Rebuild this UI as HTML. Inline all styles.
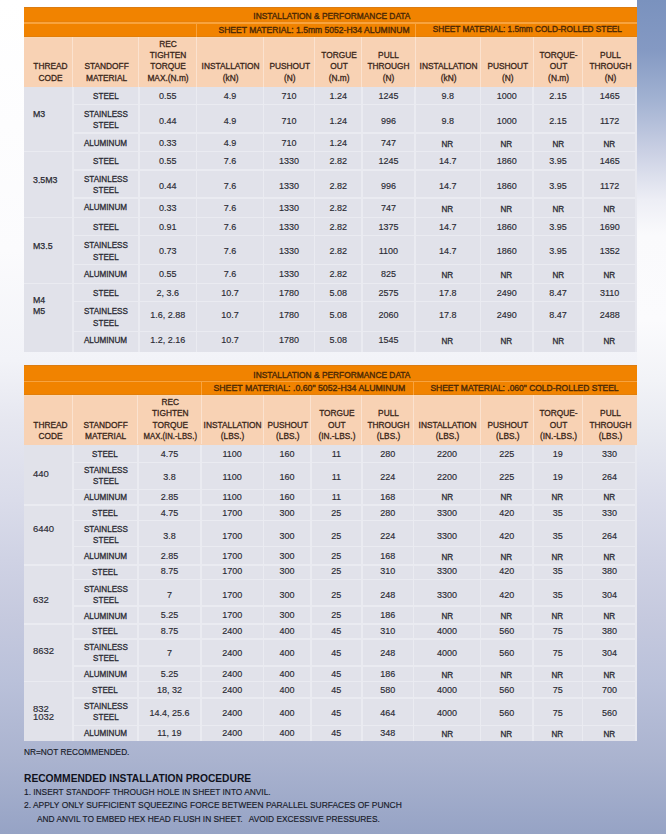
<!DOCTYPE html>
<html><head><meta charset="utf-8"><style>
html,body{margin:0;padding:0;}
body{width:666px;height:834px;position:relative;overflow:hidden;font-family:"Liberation Sans",sans-serif;background:#fff;}
body>div{position:absolute;box-sizing:border-box;}
.t{display:flex;align-items:center;white-space:nowrap;line-height:1.2;}
.t span{display:block;}
.h span{display:block;}
.h{display:flex;align-items:flex-end;justify-content:center;text-align:center;white-space:nowrap;}
.f{white-space:nowrap;line-height:1;}
</style></head><body>

<div style="left:0;top:0;width:666px;height:834px;background:linear-gradient(to bottom,#FFFFFF 0px,#FBFBFD 250px,#F2F3F8 360px,#E6E7F0 420px,#DADCEA 500px,#CFD2E4 560px,#C5C9DE 620px,#BAC1DA 680px,#AAB3CF 760px,#96A3C5 834px);"></div>
<div style="left:637px;top:0;width:29px;height:834px;background:linear-gradient(to bottom,#7A92BE 0px,#8499C3 50px,#A2B2D2 100px,#C9CFE3 150px,#EDEEF5 200px,#FAFAFC 235px,#FBFBFD 320px,#F2F3F7 380px,#E8EAF1 430px,#DADCEA 500px,#CFD2E4 560px,#C5C9DE 620px,#BAC1DA 680px,#AAB3CF 760px,#96A3C5 834px);"></div>

<div style="left:24px;top:7px;width:612.6px;height:30.7px;background:#F18300;"></div>
<div style="left:24px;top:7px;width:612.6px;height:1px;background:#DB7C12;"></div>
<div style="left:24px;top:22px;width:612.6px;height:1.8px;background:#F8A33E;"></div>
<div style="left:24px;top:21px;width:612.6px;height:1px;background:#E88008;"></div>
<div style="left:24px;top:35.7px;width:612.6px;height:1.0px;background:#E27E0A;"></div>
<div style="left:196.0px;top:23.8px;width:1.0px;height:12.9px;background:#F8A33E;"></div>
<div style="left:414.5px;top:23.8px;width:1.0px;height:12.9px;background:#F8A33E;"></div>
<div class="t" style="left:231.9px;top:9px;width:200.0px;height:15px;font-size:8.4px;color:#4A2806;justify-content:center;text-align:center;font-weight:400;letter-spacing:0px;padding-left:0px;-webkit-text-stroke:0.35px #4A2806;"><span style="">INSTALLATION &amp; PERFORMANCE DATA</span></div>
<div class="t" style="left:209px;top:23.8px;width:210px;height:12.9px;font-size:8.56px;color:#4A2806;justify-content:center;text-align:center;font-weight:400;letter-spacing:0px;padding-left:0px;-webkit-text-stroke:0.35px #4A2806;"><span style="">SHEET MATERIAL: 1.5mm 5052-H34 ALUMINUM</span></div>
<div class="t" style="left:422.4px;top:23.8px;width:210.0px;height:12.9px;font-size:8.24px;color:#4A2806;justify-content:center;text-align:center;font-weight:400;letter-spacing:0px;padding-left:0px;-webkit-text-stroke:0.35px #4A2806;"><span style="">SHEET MATERIAL: 1.5mm COLD-ROLLED STEEL</span></div>
<div style="left:24px;top:36.7px;width:612.6px;height:50.9px;background:#F8D2B4;"></div>
<div style="left:24px;top:36.7px;width:612.6px;height:1.0px;background:#FAD7B2;"></div>
<div style="left:72.3px;top:36.7px;width:1.0px;height:49.9px;background:#FBE2CF;"></div>
<div style="left:138.3px;top:36.7px;width:1.0px;height:49.9px;background:#FBE2CF;"></div>
<div style="left:196.0px;top:36.7px;width:1.0px;height:49.9px;background:#FBE2CF;"></div>
<div style="left:262.8px;top:36.7px;width:1.0px;height:49.9px;background:#FBE2CF;"></div>
<div style="left:314.0px;top:36.7px;width:1.0px;height:49.9px;background:#FBE2CF;"></div>
<div style="left:361.3px;top:36.7px;width:1.0px;height:49.9px;background:#FBE2CF;"></div>
<div style="left:414.5px;top:36.7px;width:1.0px;height:49.9px;background:#FBE2CF;"></div>
<div style="left:479.9px;top:36.7px;width:1.0px;height:49.9px;background:#FBE2CF;"></div>
<div style="left:532.5px;top:36.7px;width:1.0px;height:49.9px;background:#FBE2CF;"></div>
<div style="left:582.3px;top:36.7px;width:1.0px;height:49.9px;background:#FBE2CF;"></div>
<div class="h" style="left:25.8px;top:36.7px;width:48.8px;height:47.5px;font-size:8.5px;line-height:11.4px;color:#3A2619;-webkit-text-stroke:0.3px #3A2619"><span style="transform:scaleX(0.98)">THREAD<br>CODE</span></div>
<div class="h" style="left:73.4px;top:36.7px;width:66px;height:47.5px;font-size:8.5px;line-height:11.4px;color:#3A2619;-webkit-text-stroke:0.3px #3A2619"><span style="transform:scaleX(0.98)">STANDOFF<br>MATERIAL</span></div>
<div class="h" style="left:139.4px;top:36.7px;width:57.7px;height:47.5px;font-size:8.5px;line-height:11.4px;color:#3A2619;-webkit-text-stroke:0.3px #3A2619"><span style="transform:scaleX(0.98)">REC<br>TIGHTEN<br>TORQUE<br>MAX.(N.m)</span></div>
<div class="h" style="left:197.1px;top:36.7px;width:66.8px;height:47.5px;font-size:8.5px;line-height:11.4px;color:#3A2619;-webkit-text-stroke:0.3px #3A2619"><span style="transform:scaleX(0.98)">INSTALLATION<br>(kN)</span></div>
<div class="h" style="left:263.9px;top:36.7px;width:51.2px;height:47.5px;font-size:8.5px;line-height:11.4px;color:#3A2619;-webkit-text-stroke:0.3px #3A2619"><span style="transform:scaleX(0.98)">PUSHOUT<br>(N)</span></div>
<div class="h" style="left:315.1px;top:36.7px;width:47.3px;height:47.5px;font-size:8.5px;line-height:11.4px;color:#3A2619;-webkit-text-stroke:0.3px #3A2619"><span style="transform:scaleX(0.98)">TORGUE<br>OUT<br>(N.m)</span></div>
<div class="h" style="left:362.4px;top:36.7px;width:53.2px;height:47.5px;font-size:8.5px;line-height:11.4px;color:#3A2619;-webkit-text-stroke:0.3px #3A2619"><span style="transform:scaleX(0.98)">PULL<br>THROUGH<br>(N)</span></div>
<div class="h" style="left:415.6px;top:36.7px;width:65.4px;height:47.5px;font-size:8.5px;line-height:11.4px;color:#3A2619;-webkit-text-stroke:0.3px #3A2619"><span style="transform:scaleX(0.98)">INSTALLATION<br>(kN)</span></div>
<div class="h" style="left:481.0px;top:36.7px;width:52.6px;height:47.5px;font-size:8.5px;line-height:11.4px;color:#3A2619;-webkit-text-stroke:0.3px #3A2619"><span style="transform:scaleX(0.98)">PUSHOUT<br>(N)</span></div>
<div class="h" style="left:533.6px;top:36.7px;width:49.8px;height:47.5px;font-size:8.5px;line-height:11.4px;color:#3A2619;-webkit-text-stroke:0.3px #3A2619"><span style="transform:scaleX(0.98)">TORQUE-<br>OUT<br>(N.m)</span></div>
<div class="h" style="left:583.4px;top:36.7px;width:53.8px;height:47.5px;font-size:8.5px;line-height:11.4px;color:#3A2619;-webkit-text-stroke:0.3px #3A2619"><span style="transform:scaleX(0.98)">PULL<br>THROUGH<br>(N)</span></div>
<div style="left:24px;top:86.6px;width:612.6px;height:265.2px;background:#E1E2EA;"></div>
<div style="left:72.05px;top:86.6px;width:1.5px;height:265.2px;background:#EAEBF1;"></div>
<div style="left:138.05px;top:86.6px;width:1.5px;height:265.2px;background:#EAEBF1;"></div>
<div style="left:195.75px;top:86.6px;width:1.5px;height:265.2px;background:#EAEBF1;"></div>
<div style="left:262.55px;top:86.6px;width:1.5px;height:265.2px;background:#EAEBF1;"></div>
<div style="left:313.75px;top:86.6px;width:1.5px;height:265.2px;background:#EAEBF1;"></div>
<div style="left:361.05px;top:86.6px;width:1.5px;height:265.2px;background:#EAEBF1;"></div>
<div style="left:414.25px;top:86.6px;width:1.5px;height:265.2px;background:#EAEBF1;"></div>
<div style="left:479.65px;top:86.6px;width:1.5px;height:265.2px;background:#EAEBF1;"></div>
<div style="left:532.25px;top:86.6px;width:1.5px;height:265.2px;background:#EAEBF1;"></div>
<div style="left:582.05px;top:86.6px;width:1.5px;height:265.2px;background:#EAEBF1;"></div>
<div style="left:72.8px;top:103.75px;width:563.8px;height:1.5px;background:#EAEBF1;"></div>
<div style="left:72.8px;top:132.45px;width:563.8px;height:1.5px;background:#EAEBF1;"></div>
<div style="left:24px;top:150.75px;width:612.6px;height:1.5px;background:#EAEBF1;"></div>
<div style="left:72.8px;top:169.15px;width:563.8px;height:1.5px;background:#EAEBF1;"></div>
<div style="left:72.8px;top:197.45px;width:563.8px;height:1.5px;background:#EAEBF1;"></div>
<div style="left:24px;top:216.75px;width:612.6px;height:1.5px;background:#EAEBF1;"></div>
<div style="left:72.8px;top:234.65px;width:563.8px;height:1.5px;background:#EAEBF1;"></div>
<div style="left:72.8px;top:263.75px;width:563.8px;height:1.5px;background:#EAEBF1;"></div>
<div style="left:24px;top:282.75px;width:612.6px;height:1.5px;background:#EAEBF1;"></div>
<div style="left:72.8px;top:300.65px;width:563.8px;height:1.5px;background:#EAEBF1;"></div>
<div style="left:72.8px;top:330.85px;width:563.8px;height:1.5px;background:#EAEBF1;"></div>
<div style="left:635.1px;top:86.6px;width:1.5px;height:265.2px;background:#E8E9F0;"></div>
<div class="t" style="left:24px;top:82.6px;width:48.8px;height:64.9px;font-size:8.8px;color:#2A2A33;justify-content:flex-start;text-align:left;font-weight:400;letter-spacing:0px;padding-left:9px;line-height:11.5px;-webkit-text-stroke:0.25px #2A2A33;"><span style="">M3</span></div>
<div class="t" style="left:72.8px;top:87.5px;width:66px;height:17.9px;font-size:8.8px;color:#2A2A33;justify-content:center;text-align:center;font-weight:400;letter-spacing:0px;padding-left:0px;line-height:11.5px;-webkit-text-stroke:0.3px #2A2A33;"><span style="transform:scaleX(0.92);transform-origin:50% 50%;">STEEL</span></div>
<div class="t" style="left:138.8px;top:87px;width:57.7px;height:17.9px;font-size:9px;color:#2A2A33;justify-content:center;text-align:center;font-weight:400;letter-spacing:0px;padding-left:0px;-webkit-text-stroke:0.15px #2A2A33;"><span style="">0.55</span></div>
<div class="t" style="left:196.5px;top:87px;width:66.8px;height:17.9px;font-size:9px;color:#2A2A33;justify-content:center;text-align:center;font-weight:400;letter-spacing:0px;padding-left:0px;-webkit-text-stroke:0.15px #2A2A33;"><span style="">4.9</span></div>
<div class="t" style="left:263.3px;top:87px;width:51.2px;height:17.9px;font-size:9px;color:#2A2A33;justify-content:center;text-align:center;font-weight:400;letter-spacing:0px;padding-left:0px;-webkit-text-stroke:0.15px #2A2A33;"><span style="">710</span></div>
<div class="t" style="left:314.5px;top:87px;width:47.3px;height:17.9px;font-size:9px;color:#2A2A33;justify-content:center;text-align:center;font-weight:400;letter-spacing:0px;padding-left:0px;-webkit-text-stroke:0.15px #2A2A33;"><span style="">1.24</span></div>
<div class="t" style="left:361.8px;top:87px;width:53.2px;height:17.9px;font-size:9px;color:#2A2A33;justify-content:center;text-align:center;font-weight:400;letter-spacing:0px;padding-left:0px;-webkit-text-stroke:0.15px #2A2A33;"><span style="">1245</span></div>
<div class="t" style="left:415px;top:87px;width:65.4px;height:17.9px;font-size:9px;color:#2A2A33;justify-content:center;text-align:center;font-weight:400;letter-spacing:0px;padding-left:0px;-webkit-text-stroke:0.15px #2A2A33;"><span style="">9.8</span></div>
<div class="t" style="left:480.4px;top:87px;width:52.6px;height:17.9px;font-size:9px;color:#2A2A33;justify-content:center;text-align:center;font-weight:400;letter-spacing:0px;padding-left:0px;-webkit-text-stroke:0.15px #2A2A33;"><span style="">1000</span></div>
<div class="t" style="left:533px;top:87px;width:49.8px;height:17.9px;font-size:9px;color:#2A2A33;justify-content:center;text-align:center;font-weight:400;letter-spacing:0px;padding-left:0px;-webkit-text-stroke:0.15px #2A2A33;"><span style="">2.15</span></div>
<div class="t" style="left:582.8px;top:87px;width:53.8px;height:17.9px;font-size:9px;color:#2A2A33;justify-content:center;text-align:center;font-weight:400;letter-spacing:0px;padding-left:0px;-webkit-text-stroke:0.15px #2A2A33;"><span style="">1465</span></div>
<div class="t" style="left:72.8px;top:106.0px;width:66px;height:28.7px;font-size:8.8px;color:#2A2A33;justify-content:center;text-align:center;font-weight:400;letter-spacing:0px;padding-left:0px;line-height:11.5px;-webkit-text-stroke:0.3px #2A2A33;"><span style="transform:scaleX(0.92);transform-origin:50% 50%;">STAINLESS<br>STEEL</span></div>
<div class="t" style="left:138.8px;top:106.6px;width:57.7px;height:28.7px;font-size:9px;color:#2A2A33;justify-content:center;text-align:center;font-weight:400;letter-spacing:0px;padding-left:0px;-webkit-text-stroke:0.15px #2A2A33;"><span style="">0.44</span></div>
<div class="t" style="left:196.5px;top:106.6px;width:66.8px;height:28.7px;font-size:9px;color:#2A2A33;justify-content:center;text-align:center;font-weight:400;letter-spacing:0px;padding-left:0px;-webkit-text-stroke:0.15px #2A2A33;"><span style="">4.9</span></div>
<div class="t" style="left:263.3px;top:106.6px;width:51.2px;height:28.7px;font-size:9px;color:#2A2A33;justify-content:center;text-align:center;font-weight:400;letter-spacing:0px;padding-left:0px;-webkit-text-stroke:0.15px #2A2A33;"><span style="">710</span></div>
<div class="t" style="left:314.5px;top:106.6px;width:47.3px;height:28.7px;font-size:9px;color:#2A2A33;justify-content:center;text-align:center;font-weight:400;letter-spacing:0px;padding-left:0px;-webkit-text-stroke:0.15px #2A2A33;"><span style="">1.24</span></div>
<div class="t" style="left:361.8px;top:106.6px;width:53.2px;height:28.7px;font-size:9px;color:#2A2A33;justify-content:center;text-align:center;font-weight:400;letter-spacing:0px;padding-left:0px;-webkit-text-stroke:0.15px #2A2A33;"><span style="">996</span></div>
<div class="t" style="left:415px;top:106.6px;width:65.4px;height:28.7px;font-size:9px;color:#2A2A33;justify-content:center;text-align:center;font-weight:400;letter-spacing:0px;padding-left:0px;-webkit-text-stroke:0.15px #2A2A33;"><span style="">9.8</span></div>
<div class="t" style="left:480.4px;top:106.6px;width:52.6px;height:28.7px;font-size:9px;color:#2A2A33;justify-content:center;text-align:center;font-weight:400;letter-spacing:0px;padding-left:0px;-webkit-text-stroke:0.15px #2A2A33;"><span style="">1000</span></div>
<div class="t" style="left:533px;top:106.6px;width:49.8px;height:28.7px;font-size:9px;color:#2A2A33;justify-content:center;text-align:center;font-weight:400;letter-spacing:0px;padding-left:0px;-webkit-text-stroke:0.15px #2A2A33;"><span style="">2.15</span></div>
<div class="t" style="left:582.8px;top:106.6px;width:53.8px;height:28.7px;font-size:9px;color:#2A2A33;justify-content:center;text-align:center;font-weight:400;letter-spacing:0px;padding-left:0px;-webkit-text-stroke:0.15px #2A2A33;"><span style="">1172</span></div>
<div class="t" style="left:72.8px;top:134.9px;width:66px;height:18.3px;font-size:8.8px;color:#2A2A33;justify-content:center;text-align:center;font-weight:400;letter-spacing:0px;padding-left:0px;line-height:11.5px;-webkit-text-stroke:0.3px #2A2A33;"><span style="transform:scaleX(0.92);transform-origin:50% 50%;">ALUMINUM</span></div>
<div class="t" style="left:138.8px;top:134.1px;width:57.7px;height:18.3px;font-size:9px;color:#2A2A33;justify-content:center;text-align:center;font-weight:400;letter-spacing:0px;padding-left:0px;-webkit-text-stroke:0.15px #2A2A33;"><span style="">0.33</span></div>
<div class="t" style="left:196.5px;top:134.1px;width:66.8px;height:18.3px;font-size:9px;color:#2A2A33;justify-content:center;text-align:center;font-weight:400;letter-spacing:0px;padding-left:0px;-webkit-text-stroke:0.15px #2A2A33;"><span style="">4.9</span></div>
<div class="t" style="left:263.3px;top:134.1px;width:51.2px;height:18.3px;font-size:9px;color:#2A2A33;justify-content:center;text-align:center;font-weight:400;letter-spacing:0px;padding-left:0px;-webkit-text-stroke:0.15px #2A2A33;"><span style="">710</span></div>
<div class="t" style="left:314.5px;top:134.1px;width:47.3px;height:18.3px;font-size:9px;color:#2A2A33;justify-content:center;text-align:center;font-weight:400;letter-spacing:0px;padding-left:0px;-webkit-text-stroke:0.15px #2A2A33;"><span style="">1.24</span></div>
<div class="t" style="left:361.8px;top:134.1px;width:53.2px;height:18.3px;font-size:9px;color:#2A2A33;justify-content:center;text-align:center;font-weight:400;letter-spacing:0px;padding-left:0px;-webkit-text-stroke:0.15px #2A2A33;"><span style="">747</span></div>
<div class="t" style="left:415px;top:134.8px;width:65.4px;height:18.3px;font-size:8.8px;color:#2A2A33;justify-content:center;text-align:center;font-weight:400;letter-spacing:0px;padding-left:0px;-webkit-text-stroke:0.3px #2A2A33;"><span style="transform:scaleX(0.92);transform-origin:50% 50%;">NR</span></div>
<div class="t" style="left:480.4px;top:134.8px;width:52.6px;height:18.3px;font-size:8.8px;color:#2A2A33;justify-content:center;text-align:center;font-weight:400;letter-spacing:0px;padding-left:0px;-webkit-text-stroke:0.3px #2A2A33;"><span style="transform:scaleX(0.92);transform-origin:50% 50%;">NR</span></div>
<div class="t" style="left:533px;top:134.8px;width:49.8px;height:18.3px;font-size:8.8px;color:#2A2A33;justify-content:center;text-align:center;font-weight:400;letter-spacing:0px;padding-left:0px;-webkit-text-stroke:0.3px #2A2A33;"><span style="transform:scaleX(0.92);transform-origin:50% 50%;">NR</span></div>
<div class="t" style="left:582.8px;top:134.8px;width:53.8px;height:18.3px;font-size:8.8px;color:#2A2A33;justify-content:center;text-align:center;font-weight:400;letter-spacing:0px;padding-left:0px;-webkit-text-stroke:0.3px #2A2A33;"><span style="transform:scaleX(0.92);transform-origin:50% 50%;">NR</span></div>
<div class="t" style="left:24px;top:147.9px;width:48.8px;height:66.0px;font-size:8.8px;color:#2A2A33;justify-content:flex-start;text-align:left;font-weight:400;letter-spacing:0px;padding-left:9px;line-height:11.5px;-webkit-text-stroke:0.25px #2A2A33;"><span style="">3.5M3</span></div>
<div class="t" style="left:72.8px;top:152.7px;width:66px;height:18.4px;font-size:8.8px;color:#2A2A33;justify-content:center;text-align:center;font-weight:400;letter-spacing:0px;padding-left:0px;line-height:11.5px;-webkit-text-stroke:0.3px #2A2A33;"><span style="transform:scaleX(0.92);transform-origin:50% 50%;">STEEL</span></div>
<div class="t" style="left:138.8px;top:152.5px;width:57.7px;height:18.4px;font-size:9px;color:#2A2A33;justify-content:center;text-align:center;font-weight:400;letter-spacing:0px;padding-left:0px;-webkit-text-stroke:0.15px #2A2A33;"><span style="">0.55</span></div>
<div class="t" style="left:196.5px;top:152.5px;width:66.8px;height:18.4px;font-size:9px;color:#2A2A33;justify-content:center;text-align:center;font-weight:400;letter-spacing:0px;padding-left:0px;-webkit-text-stroke:0.15px #2A2A33;"><span style="">7.6</span></div>
<div class="t" style="left:263.3px;top:152.5px;width:51.2px;height:18.4px;font-size:9px;color:#2A2A33;justify-content:center;text-align:center;font-weight:400;letter-spacing:0px;padding-left:0px;-webkit-text-stroke:0.15px #2A2A33;"><span style="">1330</span></div>
<div class="t" style="left:314.5px;top:152.5px;width:47.3px;height:18.4px;font-size:9px;color:#2A2A33;justify-content:center;text-align:center;font-weight:400;letter-spacing:0px;padding-left:0px;-webkit-text-stroke:0.15px #2A2A33;"><span style="">2.82</span></div>
<div class="t" style="left:361.8px;top:152.5px;width:53.2px;height:18.4px;font-size:9px;color:#2A2A33;justify-content:center;text-align:center;font-weight:400;letter-spacing:0px;padding-left:0px;-webkit-text-stroke:0.15px #2A2A33;"><span style="">1245</span></div>
<div class="t" style="left:415px;top:152.5px;width:65.4px;height:18.4px;font-size:9px;color:#2A2A33;justify-content:center;text-align:center;font-weight:400;letter-spacing:0px;padding-left:0px;-webkit-text-stroke:0.15px #2A2A33;"><span style="">14.7</span></div>
<div class="t" style="left:480.4px;top:152.5px;width:52.6px;height:18.4px;font-size:9px;color:#2A2A33;justify-content:center;text-align:center;font-weight:400;letter-spacing:0px;padding-left:0px;-webkit-text-stroke:0.15px #2A2A33;"><span style="">1860</span></div>
<div class="t" style="left:533px;top:152.5px;width:49.8px;height:18.4px;font-size:9px;color:#2A2A33;justify-content:center;text-align:center;font-weight:400;letter-spacing:0px;padding-left:0px;-webkit-text-stroke:0.15px #2A2A33;"><span style="">3.95</span></div>
<div class="t" style="left:582.8px;top:152.5px;width:53.8px;height:18.4px;font-size:9px;color:#2A2A33;justify-content:center;text-align:center;font-weight:400;letter-spacing:0px;padding-left:0px;-webkit-text-stroke:0.15px #2A2A33;"><span style="">1465</span></div>
<div class="t" style="left:72.8px;top:171.3px;width:66px;height:28.3px;font-size:8.8px;color:#2A2A33;justify-content:center;text-align:center;font-weight:400;letter-spacing:0px;padding-left:0px;line-height:11.5px;-webkit-text-stroke:0.3px #2A2A33;"><span style="transform:scaleX(0.92);transform-origin:50% 50%;">STAINLESS<br>STEEL</span></div>
<div class="t" style="left:138.8px;top:172px;width:57.7px;height:28.3px;font-size:9px;color:#2A2A33;justify-content:center;text-align:center;font-weight:400;letter-spacing:0px;padding-left:0px;-webkit-text-stroke:0.15px #2A2A33;"><span style="">0.44</span></div>
<div class="t" style="left:196.5px;top:172px;width:66.8px;height:28.3px;font-size:9px;color:#2A2A33;justify-content:center;text-align:center;font-weight:400;letter-spacing:0px;padding-left:0px;-webkit-text-stroke:0.15px #2A2A33;"><span style="">7.6</span></div>
<div class="t" style="left:263.3px;top:172px;width:51.2px;height:28.3px;font-size:9px;color:#2A2A33;justify-content:center;text-align:center;font-weight:400;letter-spacing:0px;padding-left:0px;-webkit-text-stroke:0.15px #2A2A33;"><span style="">1330</span></div>
<div class="t" style="left:314.5px;top:172px;width:47.3px;height:28.3px;font-size:9px;color:#2A2A33;justify-content:center;text-align:center;font-weight:400;letter-spacing:0px;padding-left:0px;-webkit-text-stroke:0.15px #2A2A33;"><span style="">2.82</span></div>
<div class="t" style="left:361.8px;top:172px;width:53.2px;height:28.3px;font-size:9px;color:#2A2A33;justify-content:center;text-align:center;font-weight:400;letter-spacing:0px;padding-left:0px;-webkit-text-stroke:0.15px #2A2A33;"><span style="">996</span></div>
<div class="t" style="left:415px;top:172px;width:65.4px;height:28.3px;font-size:9px;color:#2A2A33;justify-content:center;text-align:center;font-weight:400;letter-spacing:0px;padding-left:0px;-webkit-text-stroke:0.15px #2A2A33;"><span style="">14.7</span></div>
<div class="t" style="left:480.4px;top:172px;width:52.6px;height:28.3px;font-size:9px;color:#2A2A33;justify-content:center;text-align:center;font-weight:400;letter-spacing:0px;padding-left:0px;-webkit-text-stroke:0.15px #2A2A33;"><span style="">1860</span></div>
<div class="t" style="left:533px;top:172px;width:49.8px;height:28.3px;font-size:9px;color:#2A2A33;justify-content:center;text-align:center;font-weight:400;letter-spacing:0px;padding-left:0px;-webkit-text-stroke:0.15px #2A2A33;"><span style="">3.95</span></div>
<div class="t" style="left:582.8px;top:172px;width:53.8px;height:28.3px;font-size:9px;color:#2A2A33;justify-content:center;text-align:center;font-weight:400;letter-spacing:0px;padding-left:0px;-webkit-text-stroke:0.15px #2A2A33;"><span style="">1172</span></div>
<div class="t" style="left:72.8px;top:198.5px;width:66px;height:19.3px;font-size:8.8px;color:#2A2A33;justify-content:center;text-align:center;font-weight:400;letter-spacing:0px;padding-left:0px;line-height:11.5px;-webkit-text-stroke:0.3px #2A2A33;"><span style="transform:scaleX(0.92);transform-origin:50% 50%;">ALUMINUM</span></div>
<div class="t" style="left:138.8px;top:198.8px;width:57.7px;height:19.3px;font-size:9px;color:#2A2A33;justify-content:center;text-align:center;font-weight:400;letter-spacing:0px;padding-left:0px;-webkit-text-stroke:0.15px #2A2A33;"><span style="">0.33</span></div>
<div class="t" style="left:196.5px;top:198.8px;width:66.8px;height:19.3px;font-size:9px;color:#2A2A33;justify-content:center;text-align:center;font-weight:400;letter-spacing:0px;padding-left:0px;-webkit-text-stroke:0.15px #2A2A33;"><span style="">7.6</span></div>
<div class="t" style="left:263.3px;top:198.8px;width:51.2px;height:19.3px;font-size:9px;color:#2A2A33;justify-content:center;text-align:center;font-weight:400;letter-spacing:0px;padding-left:0px;-webkit-text-stroke:0.15px #2A2A33;"><span style="">1330</span></div>
<div class="t" style="left:314.5px;top:198.8px;width:47.3px;height:19.3px;font-size:9px;color:#2A2A33;justify-content:center;text-align:center;font-weight:400;letter-spacing:0px;padding-left:0px;-webkit-text-stroke:0.15px #2A2A33;"><span style="">2.82</span></div>
<div class="t" style="left:361.8px;top:198.8px;width:53.2px;height:19.3px;font-size:9px;color:#2A2A33;justify-content:center;text-align:center;font-weight:400;letter-spacing:0px;padding-left:0px;-webkit-text-stroke:0.15px #2A2A33;"><span style="">747</span></div>
<div class="t" style="left:415px;top:199.5px;width:65.4px;height:19.3px;font-size:8.8px;color:#2A2A33;justify-content:center;text-align:center;font-weight:400;letter-spacing:0px;padding-left:0px;-webkit-text-stroke:0.3px #2A2A33;"><span style="transform:scaleX(0.92);transform-origin:50% 50%;">NR</span></div>
<div class="t" style="left:480.4px;top:199.5px;width:52.6px;height:19.3px;font-size:8.8px;color:#2A2A33;justify-content:center;text-align:center;font-weight:400;letter-spacing:0px;padding-left:0px;-webkit-text-stroke:0.3px #2A2A33;"><span style="transform:scaleX(0.92);transform-origin:50% 50%;">NR</span></div>
<div class="t" style="left:533px;top:199.5px;width:49.8px;height:19.3px;font-size:8.8px;color:#2A2A33;justify-content:center;text-align:center;font-weight:400;letter-spacing:0px;padding-left:0px;-webkit-text-stroke:0.3px #2A2A33;"><span style="transform:scaleX(0.92);transform-origin:50% 50%;">NR</span></div>
<div class="t" style="left:582.8px;top:199.5px;width:53.8px;height:19.3px;font-size:8.8px;color:#2A2A33;justify-content:center;text-align:center;font-weight:400;letter-spacing:0px;padding-left:0px;-webkit-text-stroke:0.3px #2A2A33;"><span style="transform:scaleX(0.92);transform-origin:50% 50%;">NR</span></div>
<div class="t" style="left:24px;top:213.7px;width:48.8px;height:66.0px;font-size:8.8px;color:#2A2A33;justify-content:flex-start;text-align:left;font-weight:400;letter-spacing:0px;padding-left:9px;line-height:11.5px;-webkit-text-stroke:0.25px #2A2A33;"><span style="">M3.5</span></div>
<div class="t" style="left:72.8px;top:218.6px;width:66px;height:17.9px;font-size:8.8px;color:#2A2A33;justify-content:center;text-align:center;font-weight:400;letter-spacing:0px;padding-left:0px;line-height:11.5px;-webkit-text-stroke:0.3px #2A2A33;"><span style="transform:scaleX(0.92);transform-origin:50% 50%;">STEEL</span></div>
<div class="t" style="left:138.8px;top:218.4px;width:57.7px;height:17.9px;font-size:9px;color:#2A2A33;justify-content:center;text-align:center;font-weight:400;letter-spacing:0px;padding-left:0px;-webkit-text-stroke:0.15px #2A2A33;"><span style="">0.91</span></div>
<div class="t" style="left:196.5px;top:218.4px;width:66.8px;height:17.9px;font-size:9px;color:#2A2A33;justify-content:center;text-align:center;font-weight:400;letter-spacing:0px;padding-left:0px;-webkit-text-stroke:0.15px #2A2A33;"><span style="">7.6</span></div>
<div class="t" style="left:263.3px;top:218.4px;width:51.2px;height:17.9px;font-size:9px;color:#2A2A33;justify-content:center;text-align:center;font-weight:400;letter-spacing:0px;padding-left:0px;-webkit-text-stroke:0.15px #2A2A33;"><span style="">1330</span></div>
<div class="t" style="left:314.5px;top:218.4px;width:47.3px;height:17.9px;font-size:9px;color:#2A2A33;justify-content:center;text-align:center;font-weight:400;letter-spacing:0px;padding-left:0px;-webkit-text-stroke:0.15px #2A2A33;"><span style="">2.82</span></div>
<div class="t" style="left:361.8px;top:218.4px;width:53.2px;height:17.9px;font-size:9px;color:#2A2A33;justify-content:center;text-align:center;font-weight:400;letter-spacing:0px;padding-left:0px;-webkit-text-stroke:0.15px #2A2A33;"><span style="">1375</span></div>
<div class="t" style="left:415px;top:218.4px;width:65.4px;height:17.9px;font-size:9px;color:#2A2A33;justify-content:center;text-align:center;font-weight:400;letter-spacing:0px;padding-left:0px;-webkit-text-stroke:0.15px #2A2A33;"><span style="">14.7</span></div>
<div class="t" style="left:480.4px;top:218.4px;width:52.6px;height:17.9px;font-size:9px;color:#2A2A33;justify-content:center;text-align:center;font-weight:400;letter-spacing:0px;padding-left:0px;-webkit-text-stroke:0.15px #2A2A33;"><span style="">1860</span></div>
<div class="t" style="left:533px;top:218.4px;width:49.8px;height:17.9px;font-size:9px;color:#2A2A33;justify-content:center;text-align:center;font-weight:400;letter-spacing:0px;padding-left:0px;-webkit-text-stroke:0.15px #2A2A33;"><span style="">3.95</span></div>
<div class="t" style="left:582.8px;top:218.4px;width:53.8px;height:17.9px;font-size:9px;color:#2A2A33;justify-content:center;text-align:center;font-weight:400;letter-spacing:0px;padding-left:0px;-webkit-text-stroke:0.15px #2A2A33;"><span style="">1690</span></div>
<div class="t" style="left:72.8px;top:237.1px;width:66px;height:29.1px;font-size:8.8px;color:#2A2A33;justify-content:center;text-align:center;font-weight:400;letter-spacing:0px;padding-left:0px;line-height:11.5px;-webkit-text-stroke:0.3px #2A2A33;"><span style="transform:scaleX(0.92);transform-origin:50% 50%;">STAINLESS<br>STEEL</span></div>
<div class="t" style="left:138.8px;top:237px;width:57.7px;height:29.1px;font-size:9px;color:#2A2A33;justify-content:center;text-align:center;font-weight:400;letter-spacing:0px;padding-left:0px;-webkit-text-stroke:0.15px #2A2A33;"><span style="">0.73</span></div>
<div class="t" style="left:196.5px;top:237px;width:66.8px;height:29.1px;font-size:9px;color:#2A2A33;justify-content:center;text-align:center;font-weight:400;letter-spacing:0px;padding-left:0px;-webkit-text-stroke:0.15px #2A2A33;"><span style="">7.6</span></div>
<div class="t" style="left:263.3px;top:237px;width:51.2px;height:29.1px;font-size:9px;color:#2A2A33;justify-content:center;text-align:center;font-weight:400;letter-spacing:0px;padding-left:0px;-webkit-text-stroke:0.15px #2A2A33;"><span style="">1330</span></div>
<div class="t" style="left:314.5px;top:237px;width:47.3px;height:29.1px;font-size:9px;color:#2A2A33;justify-content:center;text-align:center;font-weight:400;letter-spacing:0px;padding-left:0px;-webkit-text-stroke:0.15px #2A2A33;"><span style="">2.82</span></div>
<div class="t" style="left:361.8px;top:237px;width:53.2px;height:29.1px;font-size:9px;color:#2A2A33;justify-content:center;text-align:center;font-weight:400;letter-spacing:0px;padding-left:0px;-webkit-text-stroke:0.15px #2A2A33;"><span style="">1100</span></div>
<div class="t" style="left:415px;top:237px;width:65.4px;height:29.1px;font-size:9px;color:#2A2A33;justify-content:center;text-align:center;font-weight:400;letter-spacing:0px;padding-left:0px;-webkit-text-stroke:0.15px #2A2A33;"><span style="">14.7</span></div>
<div class="t" style="left:480.4px;top:237px;width:52.6px;height:29.1px;font-size:9px;color:#2A2A33;justify-content:center;text-align:center;font-weight:400;letter-spacing:0px;padding-left:0px;-webkit-text-stroke:0.15px #2A2A33;"><span style="">1860</span></div>
<div class="t" style="left:533px;top:237px;width:49.8px;height:29.1px;font-size:9px;color:#2A2A33;justify-content:center;text-align:center;font-weight:400;letter-spacing:0px;padding-left:0px;-webkit-text-stroke:0.15px #2A2A33;"><span style="">3.95</span></div>
<div class="t" style="left:582.8px;top:237px;width:53.8px;height:29.1px;font-size:9px;color:#2A2A33;justify-content:center;text-align:center;font-weight:400;letter-spacing:0px;padding-left:0px;-webkit-text-stroke:0.15px #2A2A33;"><span style="">1352</span></div>
<div class="t" style="left:72.8px;top:265.1px;width:66px;height:19.0px;font-size:8.8px;color:#2A2A33;justify-content:center;text-align:center;font-weight:400;letter-spacing:0px;padding-left:0px;line-height:11.5px;-webkit-text-stroke:0.3px #2A2A33;"><span style="transform:scaleX(0.92);transform-origin:50% 50%;">ALUMINUM</span></div>
<div class="t" style="left:138.8px;top:264.7px;width:57.7px;height:19.0px;font-size:9px;color:#2A2A33;justify-content:center;text-align:center;font-weight:400;letter-spacing:0px;padding-left:0px;-webkit-text-stroke:0.15px #2A2A33;"><span style="">0.55</span></div>
<div class="t" style="left:196.5px;top:264.7px;width:66.8px;height:19.0px;font-size:9px;color:#2A2A33;justify-content:center;text-align:center;font-weight:400;letter-spacing:0px;padding-left:0px;-webkit-text-stroke:0.15px #2A2A33;"><span style="">7.6</span></div>
<div class="t" style="left:263.3px;top:264.7px;width:51.2px;height:19.0px;font-size:9px;color:#2A2A33;justify-content:center;text-align:center;font-weight:400;letter-spacing:0px;padding-left:0px;-webkit-text-stroke:0.15px #2A2A33;"><span style="">1330</span></div>
<div class="t" style="left:314.5px;top:264.7px;width:47.3px;height:19.0px;font-size:9px;color:#2A2A33;justify-content:center;text-align:center;font-weight:400;letter-spacing:0px;padding-left:0px;-webkit-text-stroke:0.15px #2A2A33;"><span style="">2.82</span></div>
<div class="t" style="left:361.8px;top:264.7px;width:53.2px;height:19.0px;font-size:9px;color:#2A2A33;justify-content:center;text-align:center;font-weight:400;letter-spacing:0px;padding-left:0px;-webkit-text-stroke:0.15px #2A2A33;"><span style="">825</span></div>
<div class="t" style="left:415px;top:265.4px;width:65.4px;height:19.0px;font-size:8.8px;color:#2A2A33;justify-content:center;text-align:center;font-weight:400;letter-spacing:0px;padding-left:0px;-webkit-text-stroke:0.3px #2A2A33;"><span style="transform:scaleX(0.92);transform-origin:50% 50%;">NR</span></div>
<div class="t" style="left:480.4px;top:265.4px;width:52.6px;height:19.0px;font-size:8.8px;color:#2A2A33;justify-content:center;text-align:center;font-weight:400;letter-spacing:0px;padding-left:0px;-webkit-text-stroke:0.3px #2A2A33;"><span style="transform:scaleX(0.92);transform-origin:50% 50%;">NR</span></div>
<div class="t" style="left:533px;top:265.4px;width:49.8px;height:19.0px;font-size:8.8px;color:#2A2A33;justify-content:center;text-align:center;font-weight:400;letter-spacing:0px;padding-left:0px;-webkit-text-stroke:0.3px #2A2A33;"><span style="transform:scaleX(0.92);transform-origin:50% 50%;">NR</span></div>
<div class="t" style="left:582.8px;top:265.4px;width:53.8px;height:19.0px;font-size:8.8px;color:#2A2A33;justify-content:center;text-align:center;font-weight:400;letter-spacing:0px;padding-left:0px;-webkit-text-stroke:0.3px #2A2A33;"><span style="transform:scaleX(0.92);transform-origin:50% 50%;">NR</span></div>
<div class="t" style="left:24px;top:272.1px;width:48.8px;height:68.3px;font-size:8.8px;color:#2A2A33;justify-content:flex-start;text-align:left;font-weight:400;letter-spacing:0px;padding-left:9px;line-height:11.4px;-webkit-text-stroke:0.25px #2A2A33;"><span style="">M4<br>M5</span></div>
<div class="t" style="left:72.8px;top:284.6px;width:66px;height:17.9px;font-size:8.8px;color:#2A2A33;justify-content:center;text-align:center;font-weight:400;letter-spacing:0px;padding-left:0px;line-height:11.5px;-webkit-text-stroke:0.3px #2A2A33;"><span style="transform:scaleX(0.92);transform-origin:50% 50%;">STEEL</span></div>
<div class="t" style="left:138.8px;top:284.0px;width:57.7px;height:17.9px;font-size:9px;color:#2A2A33;justify-content:center;text-align:center;font-weight:400;letter-spacing:0px;padding-left:0px;-webkit-text-stroke:0.15px #2A2A33;"><span style="">2, 3.6</span></div>
<div class="t" style="left:196.5px;top:284.0px;width:66.8px;height:17.9px;font-size:9px;color:#2A2A33;justify-content:center;text-align:center;font-weight:400;letter-spacing:0px;padding-left:0px;-webkit-text-stroke:0.15px #2A2A33;"><span style="">10.7</span></div>
<div class="t" style="left:263.3px;top:284.0px;width:51.2px;height:17.9px;font-size:9px;color:#2A2A33;justify-content:center;text-align:center;font-weight:400;letter-spacing:0px;padding-left:0px;-webkit-text-stroke:0.15px #2A2A33;"><span style="">1780</span></div>
<div class="t" style="left:314.5px;top:284.0px;width:47.3px;height:17.9px;font-size:9px;color:#2A2A33;justify-content:center;text-align:center;font-weight:400;letter-spacing:0px;padding-left:0px;-webkit-text-stroke:0.15px #2A2A33;"><span style="">5.08</span></div>
<div class="t" style="left:361.8px;top:284.0px;width:53.2px;height:17.9px;font-size:9px;color:#2A2A33;justify-content:center;text-align:center;font-weight:400;letter-spacing:0px;padding-left:0px;-webkit-text-stroke:0.15px #2A2A33;"><span style="">2575</span></div>
<div class="t" style="left:415px;top:284.0px;width:65.4px;height:17.9px;font-size:9px;color:#2A2A33;justify-content:center;text-align:center;font-weight:400;letter-spacing:0px;padding-left:0px;-webkit-text-stroke:0.15px #2A2A33;"><span style="">17.8</span></div>
<div class="t" style="left:480.4px;top:284.0px;width:52.6px;height:17.9px;font-size:9px;color:#2A2A33;justify-content:center;text-align:center;font-weight:400;letter-spacing:0px;padding-left:0px;-webkit-text-stroke:0.15px #2A2A33;"><span style="">2490</span></div>
<div class="t" style="left:533px;top:284.0px;width:49.8px;height:17.9px;font-size:9px;color:#2A2A33;justify-content:center;text-align:center;font-weight:400;letter-spacing:0px;padding-left:0px;-webkit-text-stroke:0.15px #2A2A33;"><span style="">8.47</span></div>
<div class="t" style="left:582.8px;top:284.0px;width:53.8px;height:17.9px;font-size:9px;color:#2A2A33;justify-content:center;text-align:center;font-weight:400;letter-spacing:0px;padding-left:0px;-webkit-text-stroke:0.15px #2A2A33;"><span style="">3110</span></div>
<div class="t" style="left:72.8px;top:302.8px;width:66px;height:30.2px;font-size:8.8px;color:#2A2A33;justify-content:center;text-align:center;font-weight:400;letter-spacing:0px;padding-left:0px;line-height:11.5px;-webkit-text-stroke:0.3px #2A2A33;"><span style="transform:scaleX(0.92);transform-origin:50% 50%;">STAINLESS<br>STEEL</span></div>
<div class="t" style="left:138.8px;top:300.6px;width:57.7px;height:30.2px;font-size:9px;color:#2A2A33;justify-content:center;text-align:center;font-weight:400;letter-spacing:0px;padding-left:0px;-webkit-text-stroke:0.15px #2A2A33;"><span style="">1.6, 2.88</span></div>
<div class="t" style="left:196.5px;top:300.6px;width:66.8px;height:30.2px;font-size:9px;color:#2A2A33;justify-content:center;text-align:center;font-weight:400;letter-spacing:0px;padding-left:0px;-webkit-text-stroke:0.15px #2A2A33;"><span style="">10.7</span></div>
<div class="t" style="left:263.3px;top:300.6px;width:51.2px;height:30.2px;font-size:9px;color:#2A2A33;justify-content:center;text-align:center;font-weight:400;letter-spacing:0px;padding-left:0px;-webkit-text-stroke:0.15px #2A2A33;"><span style="">1780</span></div>
<div class="t" style="left:314.5px;top:300.6px;width:47.3px;height:30.2px;font-size:9px;color:#2A2A33;justify-content:center;text-align:center;font-weight:400;letter-spacing:0px;padding-left:0px;-webkit-text-stroke:0.15px #2A2A33;"><span style="">5.08</span></div>
<div class="t" style="left:361.8px;top:300.6px;width:53.2px;height:30.2px;font-size:9px;color:#2A2A33;justify-content:center;text-align:center;font-weight:400;letter-spacing:0px;padding-left:0px;-webkit-text-stroke:0.15px #2A2A33;"><span style="">2060</span></div>
<div class="t" style="left:415px;top:300.6px;width:65.4px;height:30.2px;font-size:9px;color:#2A2A33;justify-content:center;text-align:center;font-weight:400;letter-spacing:0px;padding-left:0px;-webkit-text-stroke:0.15px #2A2A33;"><span style="">17.8</span></div>
<div class="t" style="left:480.4px;top:300.6px;width:52.6px;height:30.2px;font-size:9px;color:#2A2A33;justify-content:center;text-align:center;font-weight:400;letter-spacing:0px;padding-left:0px;-webkit-text-stroke:0.15px #2A2A33;"><span style="">2490</span></div>
<div class="t" style="left:533px;top:300.6px;width:49.8px;height:30.2px;font-size:9px;color:#2A2A33;justify-content:center;text-align:center;font-weight:400;letter-spacing:0px;padding-left:0px;-webkit-text-stroke:0.15px #2A2A33;"><span style="">8.47</span></div>
<div class="t" style="left:582.8px;top:300.6px;width:53.8px;height:30.2px;font-size:9px;color:#2A2A33;justify-content:center;text-align:center;font-weight:400;letter-spacing:0px;padding-left:0px;-webkit-text-stroke:0.15px #2A2A33;"><span style="">2488</span></div>
<div class="t" style="left:72.8px;top:330.9px;width:66px;height:20.2px;font-size:8.8px;color:#2A2A33;justify-content:center;text-align:center;font-weight:400;letter-spacing:0px;padding-left:0px;line-height:11.5px;-webkit-text-stroke:0.3px #2A2A33;"><span style="transform:scaleX(0.92);transform-origin:50% 50%;">ALUMINUM</span></div>
<div class="t" style="left:138.8px;top:330.7px;width:57.7px;height:20.2px;font-size:9px;color:#2A2A33;justify-content:center;text-align:center;font-weight:400;letter-spacing:0px;padding-left:0px;-webkit-text-stroke:0.15px #2A2A33;"><span style="">1.2, 2.16</span></div>
<div class="t" style="left:196.5px;top:330.7px;width:66.8px;height:20.2px;font-size:9px;color:#2A2A33;justify-content:center;text-align:center;font-weight:400;letter-spacing:0px;padding-left:0px;-webkit-text-stroke:0.15px #2A2A33;"><span style="">10.7</span></div>
<div class="t" style="left:263.3px;top:330.7px;width:51.2px;height:20.2px;font-size:9px;color:#2A2A33;justify-content:center;text-align:center;font-weight:400;letter-spacing:0px;padding-left:0px;-webkit-text-stroke:0.15px #2A2A33;"><span style="">1780</span></div>
<div class="t" style="left:314.5px;top:330.7px;width:47.3px;height:20.2px;font-size:9px;color:#2A2A33;justify-content:center;text-align:center;font-weight:400;letter-spacing:0px;padding-left:0px;-webkit-text-stroke:0.15px #2A2A33;"><span style="">5.08</span></div>
<div class="t" style="left:361.8px;top:330.7px;width:53.2px;height:20.2px;font-size:9px;color:#2A2A33;justify-content:center;text-align:center;font-weight:400;letter-spacing:0px;padding-left:0px;-webkit-text-stroke:0.15px #2A2A33;"><span style="">1545</span></div>
<div class="t" style="left:415px;top:331.4px;width:65.4px;height:20.2px;font-size:8.8px;color:#2A2A33;justify-content:center;text-align:center;font-weight:400;letter-spacing:0px;padding-left:0px;-webkit-text-stroke:0.3px #2A2A33;"><span style="transform:scaleX(0.92);transform-origin:50% 50%;">NR</span></div>
<div class="t" style="left:480.4px;top:331.4px;width:52.6px;height:20.2px;font-size:8.8px;color:#2A2A33;justify-content:center;text-align:center;font-weight:400;letter-spacing:0px;padding-left:0px;-webkit-text-stroke:0.3px #2A2A33;"><span style="transform:scaleX(0.92);transform-origin:50% 50%;">NR</span></div>
<div class="t" style="left:533px;top:331.4px;width:49.8px;height:20.2px;font-size:8.8px;color:#2A2A33;justify-content:center;text-align:center;font-weight:400;letter-spacing:0px;padding-left:0px;-webkit-text-stroke:0.3px #2A2A33;"><span style="transform:scaleX(0.92);transform-origin:50% 50%;">NR</span></div>
<div class="t" style="left:582.8px;top:331.4px;width:53.8px;height:20.2px;font-size:8.8px;color:#2A2A33;justify-content:center;text-align:center;font-weight:400;letter-spacing:0px;padding-left:0px;-webkit-text-stroke:0.3px #2A2A33;"><span style="transform:scaleX(0.92);transform-origin:50% 50%;">NR</span></div>
<div style="left:24px;top:365px;width:612.5px;height:30.8px;background:#F18300;"></div>
<div style="left:24px;top:365px;width:612.5px;height:1px;background:#DB7C12;"></div>
<div style="left:24px;top:380.6px;width:612.5px;height:1.6px;background:#F8A33E;"></div>
<div style="left:24px;top:379.6px;width:612.5px;height:1.0px;background:#E88008;"></div>
<div style="left:24px;top:393.8px;width:612.5px;height:1.0px;background:#E27E0A;"></div>
<div style="left:200.5px;top:382.2px;width:1.0px;height:12.6px;background:#F8A33E;"></div>
<div style="left:413.1px;top:382.2px;width:1.0px;height:12.6px;background:#F8A33E;"></div>
<div class="t" style="left:231.9px;top:367px;width:200.0px;height:15.6px;font-size:8.4px;color:#4A2806;justify-content:center;text-align:center;font-weight:400;letter-spacing:0px;padding-left:0px;-webkit-text-stroke:0.35px #4A2806;"><span style="">INSTALLATION &amp; PERFORMANCE DATA</span></div>
<div class="t" style="left:204.3px;top:382.2px;width:210.0px;height:12.6px;font-size:8.77px;color:#4A2806;justify-content:center;text-align:center;font-weight:400;letter-spacing:0px;padding-left:0px;-webkit-text-stroke:0.35px #4A2806;"><span style="">SHEET MATERIAL: .0.60" 5052-H34 ALUMINUM</span></div>
<div class="t" style="left:419.5px;top:382.2px;width:210.0px;height:12.6px;font-size:8.47px;color:#4A2806;justify-content:center;text-align:center;font-weight:400;letter-spacing:0px;padding-left:0px;-webkit-text-stroke:0.35px #4A2806;"><span style="">SHEET MATERIAL: .060" COLD-ROLLED STEEL</span></div>
<div style="left:24px;top:394.8px;width:612.5px;height:50.7px;background:#F8D2B4;"></div>
<div style="left:24px;top:394.8px;width:612.5px;height:1.0px;background:#FAD7B2;"></div>
<div style="left:72.4px;top:394.8px;width:1.0px;height:49.7px;background:#FBE2CF;"></div>
<div style="left:137.4px;top:394.8px;width:1.0px;height:49.7px;background:#FBE2CF;"></div>
<div style="left:200.5px;top:394.8px;width:1.0px;height:49.7px;background:#FBE2CF;"></div>
<div style="left:262.8px;top:394.8px;width:1.0px;height:49.7px;background:#FBE2CF;"></div>
<div style="left:310.3px;top:394.8px;width:1.0px;height:49.7px;background:#FBE2CF;"></div>
<div style="left:361.3px;top:394.8px;width:1.0px;height:49.7px;background:#FBE2CF;"></div>
<div style="left:413.1px;top:394.8px;width:1.0px;height:49.7px;background:#FBE2CF;"></div>
<div style="left:480.0px;top:394.8px;width:1.0px;height:49.7px;background:#FBE2CF;"></div>
<div style="left:532.5px;top:394.8px;width:1.0px;height:49.7px;background:#FBE2CF;"></div>
<div style="left:582.0px;top:394.8px;width:1.0px;height:49.7px;background:#FBE2CF;"></div>
<div class="h" style="left:25.8px;top:394.8px;width:48.9px;height:47.9px;font-size:8.5px;line-height:11.4px;color:#3A2619;-webkit-text-stroke:0.3px #3A2619"><span style="transform:scaleX(0.98)">THREAD<br>CODE</span></div>
<div class="h" style="left:73.5px;top:394.8px;width:65.0px;height:47.9px;font-size:8.5px;line-height:11.4px;color:#3A2619;-webkit-text-stroke:0.3px #3A2619"><span style="transform:scaleX(0.98)">STANDOFF<br>MATERIAL</span></div>
<div class="h" style="left:138.5px;top:394.8px;width:63.1px;height:47.9px;font-size:8.5px;line-height:11.4px;color:#3A2619;-webkit-text-stroke:0.3px #3A2619"><span style="transform:scaleX(0.98)">REC<br>TIGHTEN<br>TORQUE<br><i style="display:inline-block;font-style:normal;transform:scaleX(0.93)">MAX.(IN.-LBS.)</i></span></div>
<div class="h" style="left:201.6px;top:394.8px;width:62.3px;height:47.9px;font-size:8.5px;line-height:11.4px;color:#3A2619;-webkit-text-stroke:0.3px #3A2619"><span style="transform:scaleX(0.98)">INSTALLATION<br>(LBS.)</span></div>
<div class="h" style="left:263.9px;top:394.8px;width:47.5px;height:47.9px;font-size:8.5px;line-height:11.4px;color:#3A2619;-webkit-text-stroke:0.3px #3A2619"><span style="transform:scaleX(0.98)">PUSHOUT<br>(LBS.)</span></div>
<div class="h" style="left:311.4px;top:394.8px;width:51.0px;height:47.9px;font-size:8.5px;line-height:11.4px;color:#3A2619;-webkit-text-stroke:0.3px #3A2619"><span style="transform:scaleX(0.98)">TORGUE<br>OUT<br>(IN.-LBS.)</span></div>
<div class="h" style="left:362.4px;top:394.8px;width:51.8px;height:47.9px;font-size:8.5px;line-height:11.4px;color:#3A2619;-webkit-text-stroke:0.3px #3A2619"><span style="transform:scaleX(0.98)">PULL<br>THROUGH<br>(LBS.)</span></div>
<div class="h" style="left:414.2px;top:394.8px;width:66.9px;height:47.9px;font-size:8.5px;line-height:11.4px;color:#3A2619;-webkit-text-stroke:0.3px #3A2619"><span style="transform:scaleX(0.98)">INSTALLATION<br>(LBS.)</span></div>
<div class="h" style="left:481.1px;top:394.8px;width:52.5px;height:47.9px;font-size:8.5px;line-height:11.4px;color:#3A2619;-webkit-text-stroke:0.3px #3A2619"><span style="transform:scaleX(0.98)">PUSHOUT<br>(LBS.)</span></div>
<div class="h" style="left:533.6px;top:394.8px;width:49.5px;height:47.9px;font-size:8.5px;line-height:11.4px;color:#3A2619;-webkit-text-stroke:0.3px #3A2619"><span style="transform:scaleX(0.98)">TORQUE-<br>OUT<br>(IN.-LBS.)</span></div>
<div class="h" style="left:583.1px;top:394.8px;width:54.0px;height:47.9px;font-size:8.5px;line-height:11.4px;color:#3A2619;-webkit-text-stroke:0.3px #3A2619"><span style="transform:scaleX(0.98)">PULL<br>THROUGH<br>(LBS.)</span></div>
<div style="left:24px;top:444.5px;width:612.5px;height:296.1px;background:#E1E2EA;"></div>
<div style="left:72.15px;top:444.5px;width:1.5px;height:296.1px;background:#EAEBF1;"></div>
<div style="left:137.15px;top:444.5px;width:1.5px;height:296.1px;background:#EAEBF1;"></div>
<div style="left:200.25px;top:444.5px;width:1.5px;height:296.1px;background:#EAEBF1;"></div>
<div style="left:262.55px;top:444.5px;width:1.5px;height:296.1px;background:#EAEBF1;"></div>
<div style="left:310.05px;top:444.5px;width:1.5px;height:296.1px;background:#EAEBF1;"></div>
<div style="left:361.05px;top:444.5px;width:1.5px;height:296.1px;background:#EAEBF1;"></div>
<div style="left:412.85px;top:444.5px;width:1.5px;height:296.1px;background:#EAEBF1;"></div>
<div style="left:479.75px;top:444.5px;width:1.5px;height:296.1px;background:#EAEBF1;"></div>
<div style="left:532.25px;top:444.5px;width:1.5px;height:296.1px;background:#EAEBF1;"></div>
<div style="left:581.75px;top:444.5px;width:1.5px;height:296.1px;background:#EAEBF1;"></div>
<div style="left:72.9px;top:461.85px;width:563.6px;height:1.5px;background:#EAEBF1;"></div>
<div style="left:72.9px;top:488.65px;width:563.6px;height:1.5px;background:#EAEBF1;"></div>
<div style="left:24px;top:504.25px;width:612.5px;height:1.5px;background:#EAEBF1;"></div>
<div style="left:72.9px;top:519.65px;width:563.6px;height:1.5px;background:#EAEBF1;"></div>
<div style="left:72.9px;top:545.85px;width:563.6px;height:1.5px;background:#EAEBF1;"></div>
<div style="left:24px;top:564.15px;width:612.5px;height:1.5px;background:#EAEBF1;"></div>
<div style="left:72.9px;top:578.95px;width:563.6px;height:1.5px;background:#EAEBF1;"></div>
<div style="left:72.9px;top:605.25px;width:563.6px;height:1.5px;background:#EAEBF1;"></div>
<div style="left:24px;top:623.05px;width:612.5px;height:1.5px;background:#EAEBF1;"></div>
<div style="left:72.9px;top:638.45px;width:563.6px;height:1.5px;background:#EAEBF1;"></div>
<div style="left:72.9px;top:665.15px;width:563.6px;height:1.5px;background:#EAEBF1;"></div>
<div style="left:24px;top:680.65px;width:612.5px;height:1.5px;background:#EAEBF1;"></div>
<div style="left:72.9px;top:697.05px;width:563.6px;height:1.5px;background:#EAEBF1;"></div>
<div style="left:72.9px;top:724.85px;width:563.6px;height:1.5px;background:#EAEBF1;"></div>
<div style="left:635.0px;top:444.5px;width:1.5px;height:296.1px;background:#E8E9F0;"></div>
<div class="t" style="left:24px;top:443.0px;width:48.9px;height:60.5px;font-size:9.5px;color:#2A2A33;justify-content:flex-start;text-align:left;font-weight:400;letter-spacing:0px;padding-left:9px;line-height:11.5px;-webkit-text-stroke:0.15px #2A2A33;"><span style="">440</span></div>
<div class="t" style="left:72.9px;top:445.3px;width:65.0px;height:18.1px;font-size:8.8px;color:#2A2A33;justify-content:center;text-align:center;font-weight:400;letter-spacing:0px;padding-left:0px;line-height:11px;-webkit-text-stroke:0.3px #2A2A33;"><span style="transform:scaleX(0.92);transform-origin:50% 50%;">STEEL</span></div>
<div class="t" style="left:137.9px;top:445.3px;width:63.1px;height:18.1px;font-size:9px;color:#2A2A33;justify-content:center;text-align:center;font-weight:400;letter-spacing:0px;padding-left:0px;-webkit-text-stroke:0.15px #2A2A33;"><span style="">4.75</span></div>
<div class="t" style="left:201px;top:445.3px;width:62.3px;height:18.1px;font-size:9px;color:#2A2A33;justify-content:center;text-align:center;font-weight:400;letter-spacing:0px;padding-left:0px;-webkit-text-stroke:0.15px #2A2A33;"><span style="">1100</span></div>
<div class="t" style="left:263.3px;top:445.3px;width:47.5px;height:18.1px;font-size:9px;color:#2A2A33;justify-content:center;text-align:center;font-weight:400;letter-spacing:0px;padding-left:0px;-webkit-text-stroke:0.15px #2A2A33;"><span style="">160</span></div>
<div class="t" style="left:310.8px;top:445.3px;width:51.0px;height:18.1px;font-size:9px;color:#2A2A33;justify-content:center;text-align:center;font-weight:400;letter-spacing:0px;padding-left:0px;-webkit-text-stroke:0.15px #2A2A33;"><span style="">11</span></div>
<div class="t" style="left:361.8px;top:445.3px;width:51.8px;height:18.1px;font-size:9px;color:#2A2A33;justify-content:center;text-align:center;font-weight:400;letter-spacing:0px;padding-left:0px;-webkit-text-stroke:0.15px #2A2A33;"><span style="">280</span></div>
<div class="t" style="left:413.6px;top:445.3px;width:66.9px;height:18.1px;font-size:9px;color:#2A2A33;justify-content:center;text-align:center;font-weight:400;letter-spacing:0px;padding-left:0px;-webkit-text-stroke:0.15px #2A2A33;"><span style="">2200</span></div>
<div class="t" style="left:480.5px;top:445.3px;width:52.5px;height:18.1px;font-size:9px;color:#2A2A33;justify-content:center;text-align:center;font-weight:400;letter-spacing:0px;padding-left:0px;-webkit-text-stroke:0.15px #2A2A33;"><span style="">225</span></div>
<div class="t" style="left:533px;top:445.3px;width:49.5px;height:18.1px;font-size:9px;color:#2A2A33;justify-content:center;text-align:center;font-weight:400;letter-spacing:0px;padding-left:0px;-webkit-text-stroke:0.15px #2A2A33;"><span style="">19</span></div>
<div class="t" style="left:582.5px;top:445.3px;width:54.0px;height:18.1px;font-size:9px;color:#2A2A33;justify-content:center;text-align:center;font-weight:400;letter-spacing:0px;padding-left:0px;-webkit-text-stroke:0.15px #2A2A33;"><span style="">330</span></div>
<div class="t" style="left:72.9px;top:463.0px;width:65.0px;height:26.8px;font-size:8.8px;color:#2A2A33;justify-content:center;text-align:center;font-weight:400;letter-spacing:0px;padding-left:0px;line-height:11px;-webkit-text-stroke:0.3px #2A2A33;"><span style="transform:scaleX(0.92);transform-origin:50% 50%;">STAINLESS<br>STEEL</span></div>
<div class="t" style="left:137.9px;top:463.6px;width:63.1px;height:26.8px;font-size:9px;color:#2A2A33;justify-content:center;text-align:center;font-weight:400;letter-spacing:0px;padding-left:0px;-webkit-text-stroke:0.15px #2A2A33;"><span style="">3.8</span></div>
<div class="t" style="left:201px;top:463.6px;width:62.3px;height:26.8px;font-size:9px;color:#2A2A33;justify-content:center;text-align:center;font-weight:400;letter-spacing:0px;padding-left:0px;-webkit-text-stroke:0.15px #2A2A33;"><span style="">1100</span></div>
<div class="t" style="left:263.3px;top:463.6px;width:47.5px;height:26.8px;font-size:9px;color:#2A2A33;justify-content:center;text-align:center;font-weight:400;letter-spacing:0px;padding-left:0px;-webkit-text-stroke:0.15px #2A2A33;"><span style="">160</span></div>
<div class="t" style="left:310.8px;top:463.6px;width:51.0px;height:26.8px;font-size:9px;color:#2A2A33;justify-content:center;text-align:center;font-weight:400;letter-spacing:0px;padding-left:0px;-webkit-text-stroke:0.15px #2A2A33;"><span style="">11</span></div>
<div class="t" style="left:361.8px;top:463.6px;width:51.8px;height:26.8px;font-size:9px;color:#2A2A33;justify-content:center;text-align:center;font-weight:400;letter-spacing:0px;padding-left:0px;-webkit-text-stroke:0.15px #2A2A33;"><span style="">224</span></div>
<div class="t" style="left:413.6px;top:463.6px;width:66.9px;height:26.8px;font-size:9px;color:#2A2A33;justify-content:center;text-align:center;font-weight:400;letter-spacing:0px;padding-left:0px;-webkit-text-stroke:0.15px #2A2A33;"><span style="">2200</span></div>
<div class="t" style="left:480.5px;top:463.6px;width:52.5px;height:26.8px;font-size:9px;color:#2A2A33;justify-content:center;text-align:center;font-weight:400;letter-spacing:0px;padding-left:0px;-webkit-text-stroke:0.15px #2A2A33;"><span style="">225</span></div>
<div class="t" style="left:533px;top:463.6px;width:49.5px;height:26.8px;font-size:9px;color:#2A2A33;justify-content:center;text-align:center;font-weight:400;letter-spacing:0px;padding-left:0px;-webkit-text-stroke:0.15px #2A2A33;"><span style="">19</span></div>
<div class="t" style="left:582.5px;top:463.6px;width:54.0px;height:26.8px;font-size:9px;color:#2A2A33;justify-content:center;text-align:center;font-weight:400;letter-spacing:0px;padding-left:0px;-webkit-text-stroke:0.15px #2A2A33;"><span style="">264</span></div>
<div class="t" style="left:72.9px;top:490.1px;width:65.0px;height:15.6px;font-size:8.8px;color:#2A2A33;justify-content:center;text-align:center;font-weight:400;letter-spacing:0px;padding-left:0px;line-height:11px;-webkit-text-stroke:0.3px #2A2A33;"><span style="transform:scaleX(0.92);transform-origin:50% 50%;">ALUMINUM</span></div>
<div class="t" style="left:137.9px;top:489.2px;width:63.1px;height:15.6px;font-size:9px;color:#2A2A33;justify-content:center;text-align:center;font-weight:400;letter-spacing:0px;padding-left:0px;-webkit-text-stroke:0.15px #2A2A33;"><span style="">2.85</span></div>
<div class="t" style="left:201px;top:489.2px;width:62.3px;height:15.6px;font-size:9px;color:#2A2A33;justify-content:center;text-align:center;font-weight:400;letter-spacing:0px;padding-left:0px;-webkit-text-stroke:0.15px #2A2A33;"><span style="">1100</span></div>
<div class="t" style="left:263.3px;top:489.2px;width:47.5px;height:15.6px;font-size:9px;color:#2A2A33;justify-content:center;text-align:center;font-weight:400;letter-spacing:0px;padding-left:0px;-webkit-text-stroke:0.15px #2A2A33;"><span style="">160</span></div>
<div class="t" style="left:310.8px;top:489.2px;width:51.0px;height:15.6px;font-size:9px;color:#2A2A33;justify-content:center;text-align:center;font-weight:400;letter-spacing:0px;padding-left:0px;-webkit-text-stroke:0.15px #2A2A33;"><span style="">11</span></div>
<div class="t" style="left:361.8px;top:489.2px;width:51.8px;height:15.6px;font-size:9px;color:#2A2A33;justify-content:center;text-align:center;font-weight:400;letter-spacing:0px;padding-left:0px;-webkit-text-stroke:0.15px #2A2A33;"><span style="">168</span></div>
<div class="t" style="left:413.6px;top:489.9px;width:66.9px;height:15.6px;font-size:8.8px;color:#2A2A33;justify-content:center;text-align:center;font-weight:400;letter-spacing:0px;padding-left:0px;-webkit-text-stroke:0.3px #2A2A33;"><span style="transform:scaleX(0.92);transform-origin:50% 50%;">NR</span></div>
<div class="t" style="left:480.5px;top:489.9px;width:52.5px;height:15.6px;font-size:8.8px;color:#2A2A33;justify-content:center;text-align:center;font-weight:400;letter-spacing:0px;padding-left:0px;-webkit-text-stroke:0.3px #2A2A33;"><span style="transform:scaleX(0.92);transform-origin:50% 50%;">NR</span></div>
<div class="t" style="left:533px;top:489.9px;width:49.5px;height:15.6px;font-size:8.8px;color:#2A2A33;justify-content:center;text-align:center;font-weight:400;letter-spacing:0px;padding-left:0px;-webkit-text-stroke:0.3px #2A2A33;"><span style="transform:scaleX(0.92);transform-origin:50% 50%;">NR</span></div>
<div class="t" style="left:582.5px;top:489.9px;width:54.0px;height:15.6px;font-size:8.8px;color:#2A2A33;justify-content:center;text-align:center;font-weight:400;letter-spacing:0px;padding-left:0px;-webkit-text-stroke:0.3px #2A2A33;"><span style="transform:scaleX(0.92);transform-origin:50% 50%;">NR</span></div>
<div class="t" style="left:24px;top:499px;width:48.9px;height:59.9px;font-size:9.5px;color:#2A2A33;justify-content:flex-start;text-align:left;font-weight:400;letter-spacing:0px;padding-left:9px;line-height:11.5px;-webkit-text-stroke:0.15px #2A2A33;"><span style="">6440</span></div>
<div class="t" style="left:72.9px;top:506.0px;width:65.0px;height:15.4px;font-size:8.8px;color:#2A2A33;justify-content:center;text-align:center;font-weight:400;letter-spacing:0px;padding-left:0px;line-height:11px;-webkit-text-stroke:0.3px #2A2A33;"><span style="transform:scaleX(0.92);transform-origin:50% 50%;">STEEL</span></div>
<div class="t" style="left:137.9px;top:505.8px;width:63.1px;height:15.4px;font-size:9px;color:#2A2A33;justify-content:center;text-align:center;font-weight:400;letter-spacing:0px;padding-left:0px;-webkit-text-stroke:0.15px #2A2A33;"><span style="">4.75</span></div>
<div class="t" style="left:201px;top:505.8px;width:62.3px;height:15.4px;font-size:9px;color:#2A2A33;justify-content:center;text-align:center;font-weight:400;letter-spacing:0px;padding-left:0px;-webkit-text-stroke:0.15px #2A2A33;"><span style="">1700</span></div>
<div class="t" style="left:263.3px;top:505.8px;width:47.5px;height:15.4px;font-size:9px;color:#2A2A33;justify-content:center;text-align:center;font-weight:400;letter-spacing:0px;padding-left:0px;-webkit-text-stroke:0.15px #2A2A33;"><span style="">300</span></div>
<div class="t" style="left:310.8px;top:505.8px;width:51.0px;height:15.4px;font-size:9px;color:#2A2A33;justify-content:center;text-align:center;font-weight:400;letter-spacing:0px;padding-left:0px;-webkit-text-stroke:0.15px #2A2A33;"><span style="">25</span></div>
<div class="t" style="left:361.8px;top:505.8px;width:51.8px;height:15.4px;font-size:9px;color:#2A2A33;justify-content:center;text-align:center;font-weight:400;letter-spacing:0px;padding-left:0px;-webkit-text-stroke:0.15px #2A2A33;"><span style="">280</span></div>
<div class="t" style="left:413.6px;top:505.8px;width:66.9px;height:15.4px;font-size:9px;color:#2A2A33;justify-content:center;text-align:center;font-weight:400;letter-spacing:0px;padding-left:0px;-webkit-text-stroke:0.15px #2A2A33;"><span style="">3300</span></div>
<div class="t" style="left:480.5px;top:505.8px;width:52.5px;height:15.4px;font-size:9px;color:#2A2A33;justify-content:center;text-align:center;font-weight:400;letter-spacing:0px;padding-left:0px;-webkit-text-stroke:0.15px #2A2A33;"><span style="">420</span></div>
<div class="t" style="left:533px;top:505.8px;width:49.5px;height:15.4px;font-size:9px;color:#2A2A33;justify-content:center;text-align:center;font-weight:400;letter-spacing:0px;padding-left:0px;-webkit-text-stroke:0.15px #2A2A33;"><span style="">35</span></div>
<div class="t" style="left:582.5px;top:505.8px;width:54.0px;height:15.4px;font-size:9px;color:#2A2A33;justify-content:center;text-align:center;font-weight:400;letter-spacing:0px;padding-left:0px;-webkit-text-stroke:0.15px #2A2A33;"><span style="">330</span></div>
<div class="t" style="left:72.9px;top:522.2px;width:65.0px;height:26.2px;font-size:8.8px;color:#2A2A33;justify-content:center;text-align:center;font-weight:400;letter-spacing:0px;padding-left:0px;line-height:11px;-webkit-text-stroke:0.3px #2A2A33;"><span style="transform:scaleX(0.92);transform-origin:50% 50%;">STAINLESS<br>STEEL</span></div>
<div class="t" style="left:137.9px;top:522.9px;width:63.1px;height:26.2px;font-size:9px;color:#2A2A33;justify-content:center;text-align:center;font-weight:400;letter-spacing:0px;padding-left:0px;-webkit-text-stroke:0.15px #2A2A33;"><span style="">3.8</span></div>
<div class="t" style="left:201px;top:522.9px;width:62.3px;height:26.2px;font-size:9px;color:#2A2A33;justify-content:center;text-align:center;font-weight:400;letter-spacing:0px;padding-left:0px;-webkit-text-stroke:0.15px #2A2A33;"><span style="">1700</span></div>
<div class="t" style="left:263.3px;top:522.9px;width:47.5px;height:26.2px;font-size:9px;color:#2A2A33;justify-content:center;text-align:center;font-weight:400;letter-spacing:0px;padding-left:0px;-webkit-text-stroke:0.15px #2A2A33;"><span style="">300</span></div>
<div class="t" style="left:310.8px;top:522.9px;width:51.0px;height:26.2px;font-size:9px;color:#2A2A33;justify-content:center;text-align:center;font-weight:400;letter-spacing:0px;padding-left:0px;-webkit-text-stroke:0.15px #2A2A33;"><span style="">25</span></div>
<div class="t" style="left:361.8px;top:522.9px;width:51.8px;height:26.2px;font-size:9px;color:#2A2A33;justify-content:center;text-align:center;font-weight:400;letter-spacing:0px;padding-left:0px;-webkit-text-stroke:0.15px #2A2A33;"><span style="">224</span></div>
<div class="t" style="left:413.6px;top:522.9px;width:66.9px;height:26.2px;font-size:9px;color:#2A2A33;justify-content:center;text-align:center;font-weight:400;letter-spacing:0px;padding-left:0px;-webkit-text-stroke:0.15px #2A2A33;"><span style="">3300</span></div>
<div class="t" style="left:480.5px;top:522.9px;width:52.5px;height:26.2px;font-size:9px;color:#2A2A33;justify-content:center;text-align:center;font-weight:400;letter-spacing:0px;padding-left:0px;-webkit-text-stroke:0.15px #2A2A33;"><span style="">420</span></div>
<div class="t" style="left:533px;top:522.9px;width:49.5px;height:26.2px;font-size:9px;color:#2A2A33;justify-content:center;text-align:center;font-weight:400;letter-spacing:0px;padding-left:0px;-webkit-text-stroke:0.15px #2A2A33;"><span style="">35</span></div>
<div class="t" style="left:582.5px;top:522.9px;width:54.0px;height:26.2px;font-size:9px;color:#2A2A33;justify-content:center;text-align:center;font-weight:400;letter-spacing:0px;padding-left:0px;-webkit-text-stroke:0.15px #2A2A33;"><span style="">264</span></div>
<div class="t" style="left:72.9px;top:547.0px;width:65.0px;height:18.3px;font-size:8.8px;color:#2A2A33;justify-content:center;text-align:center;font-weight:400;letter-spacing:0px;padding-left:0px;line-height:11px;-webkit-text-stroke:0.3px #2A2A33;"><span style="transform:scaleX(0.92);transform-origin:50% 50%;">ALUMINUM</span></div>
<div class="t" style="left:137.9px;top:547.2px;width:63.1px;height:18.3px;font-size:9px;color:#2A2A33;justify-content:center;text-align:center;font-weight:400;letter-spacing:0px;padding-left:0px;-webkit-text-stroke:0.15px #2A2A33;"><span style="">2.85</span></div>
<div class="t" style="left:201px;top:547.2px;width:62.3px;height:18.3px;font-size:9px;color:#2A2A33;justify-content:center;text-align:center;font-weight:400;letter-spacing:0px;padding-left:0px;-webkit-text-stroke:0.15px #2A2A33;"><span style="">1700</span></div>
<div class="t" style="left:263.3px;top:547.2px;width:47.5px;height:18.3px;font-size:9px;color:#2A2A33;justify-content:center;text-align:center;font-weight:400;letter-spacing:0px;padding-left:0px;-webkit-text-stroke:0.15px #2A2A33;"><span style="">300</span></div>
<div class="t" style="left:310.8px;top:547.2px;width:51.0px;height:18.3px;font-size:9px;color:#2A2A33;justify-content:center;text-align:center;font-weight:400;letter-spacing:0px;padding-left:0px;-webkit-text-stroke:0.15px #2A2A33;"><span style="">25</span></div>
<div class="t" style="left:361.8px;top:547.2px;width:51.8px;height:18.3px;font-size:9px;color:#2A2A33;justify-content:center;text-align:center;font-weight:400;letter-spacing:0px;padding-left:0px;-webkit-text-stroke:0.15px #2A2A33;"><span style="">168</span></div>
<div class="t" style="left:413.6px;top:547.9px;width:66.9px;height:18.3px;font-size:8.8px;color:#2A2A33;justify-content:center;text-align:center;font-weight:400;letter-spacing:0px;padding-left:0px;-webkit-text-stroke:0.3px #2A2A33;"><span style="transform:scaleX(0.92);transform-origin:50% 50%;">NR</span></div>
<div class="t" style="left:480.5px;top:547.9px;width:52.5px;height:18.3px;font-size:8.8px;color:#2A2A33;justify-content:center;text-align:center;font-weight:400;letter-spacing:0px;padding-left:0px;-webkit-text-stroke:0.3px #2A2A33;"><span style="transform:scaleX(0.92);transform-origin:50% 50%;">NR</span></div>
<div class="t" style="left:533px;top:547.9px;width:49.5px;height:18.3px;font-size:8.8px;color:#2A2A33;justify-content:center;text-align:center;font-weight:400;letter-spacing:0px;padding-left:0px;-webkit-text-stroke:0.3px #2A2A33;"><span style="transform:scaleX(0.92);transform-origin:50% 50%;">NR</span></div>
<div class="t" style="left:582.5px;top:547.9px;width:54.0px;height:18.3px;font-size:8.8px;color:#2A2A33;justify-content:center;text-align:center;font-weight:400;letter-spacing:0px;padding-left:0px;-webkit-text-stroke:0.3px #2A2A33;"><span style="transform:scaleX(0.92);transform-origin:50% 50%;">NR</span></div>
<div class="t" style="left:24px;top:570.1px;width:48.9px;height:58.9px;font-size:9.5px;color:#2A2A33;justify-content:flex-start;text-align:left;font-weight:400;letter-spacing:0px;padding-left:9px;line-height:11.5px;-webkit-text-stroke:0.15px #2A2A33;"><span style="">632</span></div>
<div class="t" style="left:72.9px;top:565.3px;width:65.0px;height:14.8px;font-size:8.8px;color:#2A2A33;justify-content:center;text-align:center;font-weight:400;letter-spacing:0px;padding-left:0px;line-height:11px;-webkit-text-stroke:0.3px #2A2A33;"><span style="transform:scaleX(0.92);transform-origin:50% 50%;">STEEL</span></div>
<div class="t" style="left:137.9px;top:564.4px;width:63.1px;height:14.8px;font-size:9px;color:#2A2A33;justify-content:center;text-align:center;font-weight:400;letter-spacing:0px;padding-left:0px;-webkit-text-stroke:0.15px #2A2A33;"><span style="">8.75</span></div>
<div class="t" style="left:201px;top:564.4px;width:62.3px;height:14.8px;font-size:9px;color:#2A2A33;justify-content:center;text-align:center;font-weight:400;letter-spacing:0px;padding-left:0px;-webkit-text-stroke:0.15px #2A2A33;"><span style="">1700</span></div>
<div class="t" style="left:263.3px;top:564.4px;width:47.5px;height:14.8px;font-size:9px;color:#2A2A33;justify-content:center;text-align:center;font-weight:400;letter-spacing:0px;padding-left:0px;-webkit-text-stroke:0.15px #2A2A33;"><span style="">300</span></div>
<div class="t" style="left:310.8px;top:564.4px;width:51.0px;height:14.8px;font-size:9px;color:#2A2A33;justify-content:center;text-align:center;font-weight:400;letter-spacing:0px;padding-left:0px;-webkit-text-stroke:0.15px #2A2A33;"><span style="">25</span></div>
<div class="t" style="left:361.8px;top:564.4px;width:51.8px;height:14.8px;font-size:9px;color:#2A2A33;justify-content:center;text-align:center;font-weight:400;letter-spacing:0px;padding-left:0px;-webkit-text-stroke:0.15px #2A2A33;"><span style="">310</span></div>
<div class="t" style="left:413.6px;top:564.4px;width:66.9px;height:14.8px;font-size:9px;color:#2A2A33;justify-content:center;text-align:center;font-weight:400;letter-spacing:0px;padding-left:0px;-webkit-text-stroke:0.15px #2A2A33;"><span style="">3300</span></div>
<div class="t" style="left:480.5px;top:564.4px;width:52.5px;height:14.8px;font-size:9px;color:#2A2A33;justify-content:center;text-align:center;font-weight:400;letter-spacing:0px;padding-left:0px;-webkit-text-stroke:0.15px #2A2A33;"><span style="">420</span></div>
<div class="t" style="left:533px;top:564.4px;width:49.5px;height:14.8px;font-size:9px;color:#2A2A33;justify-content:center;text-align:center;font-weight:400;letter-spacing:0px;padding-left:0px;-webkit-text-stroke:0.15px #2A2A33;"><span style="">35</span></div>
<div class="t" style="left:582.5px;top:564.4px;width:54.0px;height:14.8px;font-size:9px;color:#2A2A33;justify-content:center;text-align:center;font-weight:400;letter-spacing:0px;padding-left:0px;-webkit-text-stroke:0.15px #2A2A33;"><span style="">380</span></div>
<div class="t" style="left:72.9px;top:581.5px;width:65.0px;height:26.3px;font-size:8.8px;color:#2A2A33;justify-content:center;text-align:center;font-weight:400;letter-spacing:0px;padding-left:0px;line-height:11px;-webkit-text-stroke:0.3px #2A2A33;"><span style="transform:scaleX(0.92);transform-origin:50% 50%;">STAINLESS<br>STEEL</span></div>
<div class="t" style="left:137.9px;top:581.8px;width:63.1px;height:26.3px;font-size:9px;color:#2A2A33;justify-content:center;text-align:center;font-weight:400;letter-spacing:0px;padding-left:0px;-webkit-text-stroke:0.15px #2A2A33;"><span style="">7</span></div>
<div class="t" style="left:201px;top:581.8px;width:62.3px;height:26.3px;font-size:9px;color:#2A2A33;justify-content:center;text-align:center;font-weight:400;letter-spacing:0px;padding-left:0px;-webkit-text-stroke:0.15px #2A2A33;"><span style="">1700</span></div>
<div class="t" style="left:263.3px;top:581.8px;width:47.5px;height:26.3px;font-size:9px;color:#2A2A33;justify-content:center;text-align:center;font-weight:400;letter-spacing:0px;padding-left:0px;-webkit-text-stroke:0.15px #2A2A33;"><span style="">300</span></div>
<div class="t" style="left:310.8px;top:581.8px;width:51.0px;height:26.3px;font-size:9px;color:#2A2A33;justify-content:center;text-align:center;font-weight:400;letter-spacing:0px;padding-left:0px;-webkit-text-stroke:0.15px #2A2A33;"><span style="">25</span></div>
<div class="t" style="left:361.8px;top:581.8px;width:51.8px;height:26.3px;font-size:9px;color:#2A2A33;justify-content:center;text-align:center;font-weight:400;letter-spacing:0px;padding-left:0px;-webkit-text-stroke:0.15px #2A2A33;"><span style="">248</span></div>
<div class="t" style="left:413.6px;top:581.8px;width:66.9px;height:26.3px;font-size:9px;color:#2A2A33;justify-content:center;text-align:center;font-weight:400;letter-spacing:0px;padding-left:0px;-webkit-text-stroke:0.15px #2A2A33;"><span style="">3300</span></div>
<div class="t" style="left:480.5px;top:581.8px;width:52.5px;height:26.3px;font-size:9px;color:#2A2A33;justify-content:center;text-align:center;font-weight:400;letter-spacing:0px;padding-left:0px;-webkit-text-stroke:0.15px #2A2A33;"><span style="">420</span></div>
<div class="t" style="left:533px;top:581.8px;width:49.5px;height:26.3px;font-size:9px;color:#2A2A33;justify-content:center;text-align:center;font-weight:400;letter-spacing:0px;padding-left:0px;-webkit-text-stroke:0.15px #2A2A33;"><span style="">35</span></div>
<div class="t" style="left:582.5px;top:581.8px;width:54.0px;height:26.3px;font-size:9px;color:#2A2A33;justify-content:center;text-align:center;font-weight:400;letter-spacing:0px;padding-left:0px;-webkit-text-stroke:0.15px #2A2A33;"><span style="">304</span></div>
<div class="t" style="left:72.9px;top:607.2px;width:65.0px;height:17.8px;font-size:8.8px;color:#2A2A33;justify-content:center;text-align:center;font-weight:400;letter-spacing:0px;padding-left:0px;line-height:11px;-webkit-text-stroke:0.3px #2A2A33;"><span style="transform:scaleX(0.92);transform-origin:50% 50%;">ALUMINUM</span></div>
<div class="t" style="left:137.9px;top:606.8px;width:63.1px;height:17.8px;font-size:9px;color:#2A2A33;justify-content:center;text-align:center;font-weight:400;letter-spacing:0px;padding-left:0px;-webkit-text-stroke:0.15px #2A2A33;"><span style="">5.25</span></div>
<div class="t" style="left:201px;top:606.8px;width:62.3px;height:17.8px;font-size:9px;color:#2A2A33;justify-content:center;text-align:center;font-weight:400;letter-spacing:0px;padding-left:0px;-webkit-text-stroke:0.15px #2A2A33;"><span style="">1700</span></div>
<div class="t" style="left:263.3px;top:606.8px;width:47.5px;height:17.8px;font-size:9px;color:#2A2A33;justify-content:center;text-align:center;font-weight:400;letter-spacing:0px;padding-left:0px;-webkit-text-stroke:0.15px #2A2A33;"><span style="">300</span></div>
<div class="t" style="left:310.8px;top:606.8px;width:51.0px;height:17.8px;font-size:9px;color:#2A2A33;justify-content:center;text-align:center;font-weight:400;letter-spacing:0px;padding-left:0px;-webkit-text-stroke:0.15px #2A2A33;"><span style="">25</span></div>
<div class="t" style="left:361.8px;top:606.8px;width:51.8px;height:17.8px;font-size:9px;color:#2A2A33;justify-content:center;text-align:center;font-weight:400;letter-spacing:0px;padding-left:0px;-webkit-text-stroke:0.15px #2A2A33;"><span style="">186</span></div>
<div class="t" style="left:413.6px;top:607.5px;width:66.9px;height:17.8px;font-size:8.8px;color:#2A2A33;justify-content:center;text-align:center;font-weight:400;letter-spacing:0px;padding-left:0px;-webkit-text-stroke:0.3px #2A2A33;"><span style="transform:scaleX(0.92);transform-origin:50% 50%;">NR</span></div>
<div class="t" style="left:480.5px;top:607.5px;width:52.5px;height:17.8px;font-size:8.8px;color:#2A2A33;justify-content:center;text-align:center;font-weight:400;letter-spacing:0px;padding-left:0px;-webkit-text-stroke:0.3px #2A2A33;"><span style="transform:scaleX(0.92);transform-origin:50% 50%;">NR</span></div>
<div class="t" style="left:533px;top:607.5px;width:49.5px;height:17.8px;font-size:8.8px;color:#2A2A33;justify-content:center;text-align:center;font-weight:400;letter-spacing:0px;padding-left:0px;-webkit-text-stroke:0.3px #2A2A33;"><span style="transform:scaleX(0.92);transform-origin:50% 50%;">NR</span></div>
<div class="t" style="left:582.5px;top:607.5px;width:54.0px;height:17.8px;font-size:8.8px;color:#2A2A33;justify-content:center;text-align:center;font-weight:400;letter-spacing:0px;padding-left:0px;-webkit-text-stroke:0.3px #2A2A33;"><span style="transform:scaleX(0.92);transform-origin:50% 50%;">NR</span></div>
<div class="t" style="left:24px;top:621.6px;width:48.9px;height:57.6px;font-size:9.5px;color:#2A2A33;justify-content:flex-start;text-align:left;font-weight:400;letter-spacing:0px;padding-left:9px;line-height:11.5px;-webkit-text-stroke:0.15px #2A2A33;"><span style="">8632</span></div>
<div class="t" style="left:72.9px;top:623.8px;width:65.0px;height:15.4px;font-size:8.8px;color:#2A2A33;justify-content:center;text-align:center;font-weight:400;letter-spacing:0px;padding-left:0px;line-height:11px;-webkit-text-stroke:0.3px #2A2A33;"><span style="transform:scaleX(0.92);transform-origin:50% 50%;">STEEL</span></div>
<div class="t" style="left:137.9px;top:623.6px;width:63.1px;height:15.4px;font-size:9px;color:#2A2A33;justify-content:center;text-align:center;font-weight:400;letter-spacing:0px;padding-left:0px;-webkit-text-stroke:0.15px #2A2A33;"><span style="">8.75</span></div>
<div class="t" style="left:201px;top:623.6px;width:62.3px;height:15.4px;font-size:9px;color:#2A2A33;justify-content:center;text-align:center;font-weight:400;letter-spacing:0px;padding-left:0px;-webkit-text-stroke:0.15px #2A2A33;"><span style="">2400</span></div>
<div class="t" style="left:263.3px;top:623.6px;width:47.5px;height:15.4px;font-size:9px;color:#2A2A33;justify-content:center;text-align:center;font-weight:400;letter-spacing:0px;padding-left:0px;-webkit-text-stroke:0.15px #2A2A33;"><span style="">400</span></div>
<div class="t" style="left:310.8px;top:623.6px;width:51.0px;height:15.4px;font-size:9px;color:#2A2A33;justify-content:center;text-align:center;font-weight:400;letter-spacing:0px;padding-left:0px;-webkit-text-stroke:0.15px #2A2A33;"><span style="">45</span></div>
<div class="t" style="left:361.8px;top:623.6px;width:51.8px;height:15.4px;font-size:9px;color:#2A2A33;justify-content:center;text-align:center;font-weight:400;letter-spacing:0px;padding-left:0px;-webkit-text-stroke:0.15px #2A2A33;"><span style="">310</span></div>
<div class="t" style="left:413.6px;top:623.6px;width:66.9px;height:15.4px;font-size:9px;color:#2A2A33;justify-content:center;text-align:center;font-weight:400;letter-spacing:0px;padding-left:0px;-webkit-text-stroke:0.15px #2A2A33;"><span style="">4000</span></div>
<div class="t" style="left:480.5px;top:623.6px;width:52.5px;height:15.4px;font-size:9px;color:#2A2A33;justify-content:center;text-align:center;font-weight:400;letter-spacing:0px;padding-left:0px;-webkit-text-stroke:0.15px #2A2A33;"><span style="">560</span></div>
<div class="t" style="left:533px;top:623.6px;width:49.5px;height:15.4px;font-size:9px;color:#2A2A33;justify-content:center;text-align:center;font-weight:400;letter-spacing:0px;padding-left:0px;-webkit-text-stroke:0.15px #2A2A33;"><span style="">75</span></div>
<div class="t" style="left:582.5px;top:623.6px;width:54.0px;height:15.4px;font-size:9px;color:#2A2A33;justify-content:center;text-align:center;font-weight:400;letter-spacing:0px;padding-left:0px;-webkit-text-stroke:0.15px #2A2A33;"><span style="">380</span></div>
<div class="t" style="left:72.9px;top:639.6px;width:65.0px;height:26.7px;font-size:8.8px;color:#2A2A33;justify-content:center;text-align:center;font-weight:400;letter-spacing:0px;padding-left:0px;line-height:11px;-webkit-text-stroke:0.3px #2A2A33;"><span style="transform:scaleX(0.92);transform-origin:50% 50%;">STAINLESS<br>STEEL</span></div>
<div class="t" style="left:137.9px;top:640.3px;width:63.1px;height:26.7px;font-size:9px;color:#2A2A33;justify-content:center;text-align:center;font-weight:400;letter-spacing:0px;padding-left:0px;-webkit-text-stroke:0.15px #2A2A33;"><span style="">7</span></div>
<div class="t" style="left:201px;top:640.3px;width:62.3px;height:26.7px;font-size:9px;color:#2A2A33;justify-content:center;text-align:center;font-weight:400;letter-spacing:0px;padding-left:0px;-webkit-text-stroke:0.15px #2A2A33;"><span style="">2400</span></div>
<div class="t" style="left:263.3px;top:640.3px;width:47.5px;height:26.7px;font-size:9px;color:#2A2A33;justify-content:center;text-align:center;font-weight:400;letter-spacing:0px;padding-left:0px;-webkit-text-stroke:0.15px #2A2A33;"><span style="">400</span></div>
<div class="t" style="left:310.8px;top:640.3px;width:51.0px;height:26.7px;font-size:9px;color:#2A2A33;justify-content:center;text-align:center;font-weight:400;letter-spacing:0px;padding-left:0px;-webkit-text-stroke:0.15px #2A2A33;"><span style="">45</span></div>
<div class="t" style="left:361.8px;top:640.3px;width:51.8px;height:26.7px;font-size:9px;color:#2A2A33;justify-content:center;text-align:center;font-weight:400;letter-spacing:0px;padding-left:0px;-webkit-text-stroke:0.15px #2A2A33;"><span style="">248</span></div>
<div class="t" style="left:413.6px;top:640.3px;width:66.9px;height:26.7px;font-size:9px;color:#2A2A33;justify-content:center;text-align:center;font-weight:400;letter-spacing:0px;padding-left:0px;-webkit-text-stroke:0.15px #2A2A33;"><span style="">4000</span></div>
<div class="t" style="left:480.5px;top:640.3px;width:52.5px;height:26.7px;font-size:9px;color:#2A2A33;justify-content:center;text-align:center;font-weight:400;letter-spacing:0px;padding-left:0px;-webkit-text-stroke:0.15px #2A2A33;"><span style="">560</span></div>
<div class="t" style="left:533px;top:640.3px;width:49.5px;height:26.7px;font-size:9px;color:#2A2A33;justify-content:center;text-align:center;font-weight:400;letter-spacing:0px;padding-left:0px;-webkit-text-stroke:0.15px #2A2A33;"><span style="">75</span></div>
<div class="t" style="left:582.5px;top:640.3px;width:54.0px;height:26.7px;font-size:9px;color:#2A2A33;justify-content:center;text-align:center;font-weight:400;letter-spacing:0px;padding-left:0px;-webkit-text-stroke:0.15px #2A2A33;"><span style="">304</span></div>
<div class="t" style="left:72.9px;top:666.5px;width:65.0px;height:15.5px;font-size:8.8px;color:#2A2A33;justify-content:center;text-align:center;font-weight:400;letter-spacing:0px;padding-left:0px;line-height:11px;-webkit-text-stroke:0.3px #2A2A33;"><span style="transform:scaleX(0.92);transform-origin:50% 50%;">ALUMINUM</span></div>
<div class="t" style="left:137.9px;top:666.7px;width:63.1px;height:15.5px;font-size:9px;color:#2A2A33;justify-content:center;text-align:center;font-weight:400;letter-spacing:0px;padding-left:0px;-webkit-text-stroke:0.15px #2A2A33;"><span style="">5.25</span></div>
<div class="t" style="left:201px;top:666.7px;width:62.3px;height:15.5px;font-size:9px;color:#2A2A33;justify-content:center;text-align:center;font-weight:400;letter-spacing:0px;padding-left:0px;-webkit-text-stroke:0.15px #2A2A33;"><span style="">2400</span></div>
<div class="t" style="left:263.3px;top:666.7px;width:47.5px;height:15.5px;font-size:9px;color:#2A2A33;justify-content:center;text-align:center;font-weight:400;letter-spacing:0px;padding-left:0px;-webkit-text-stroke:0.15px #2A2A33;"><span style="">400</span></div>
<div class="t" style="left:310.8px;top:666.7px;width:51.0px;height:15.5px;font-size:9px;color:#2A2A33;justify-content:center;text-align:center;font-weight:400;letter-spacing:0px;padding-left:0px;-webkit-text-stroke:0.15px #2A2A33;"><span style="">45</span></div>
<div class="t" style="left:361.8px;top:666.7px;width:51.8px;height:15.5px;font-size:9px;color:#2A2A33;justify-content:center;text-align:center;font-weight:400;letter-spacing:0px;padding-left:0px;-webkit-text-stroke:0.15px #2A2A33;"><span style="">186</span></div>
<div class="t" style="left:413.6px;top:667.4px;width:66.9px;height:15.5px;font-size:8.8px;color:#2A2A33;justify-content:center;text-align:center;font-weight:400;letter-spacing:0px;padding-left:0px;-webkit-text-stroke:0.3px #2A2A33;"><span style="transform:scaleX(0.92);transform-origin:50% 50%;">NR</span></div>
<div class="t" style="left:480.5px;top:667.4px;width:52.5px;height:15.5px;font-size:8.8px;color:#2A2A33;justify-content:center;text-align:center;font-weight:400;letter-spacing:0px;padding-left:0px;-webkit-text-stroke:0.3px #2A2A33;"><span style="transform:scaleX(0.92);transform-origin:50% 50%;">NR</span></div>
<div class="t" style="left:533px;top:667.4px;width:49.5px;height:15.5px;font-size:8.8px;color:#2A2A33;justify-content:center;text-align:center;font-weight:400;letter-spacing:0px;padding-left:0px;-webkit-text-stroke:0.3px #2A2A33;"><span style="transform:scaleX(0.92);transform-origin:50% 50%;">NR</span></div>
<div class="t" style="left:582.5px;top:667.4px;width:54.0px;height:15.5px;font-size:8.8px;color:#2A2A33;justify-content:center;text-align:center;font-weight:400;letter-spacing:0px;padding-left:0px;-webkit-text-stroke:0.3px #2A2A33;"><span style="transform:scaleX(0.92);transform-origin:50% 50%;">NR</span></div>
<div class="t" style="left:24px;top:683.4px;width:48.9px;height:59.2px;font-size:9.5px;color:#2A2A33;justify-content:flex-start;text-align:left;font-weight:400;letter-spacing:0px;padding-left:9px;line-height:7.9px;-webkit-text-stroke:0.15px #2A2A33;"><span style="">832<br>1032</span></div>
<div class="t" style="left:72.9px;top:682.6px;width:65.0px;height:16.4px;font-size:8.8px;color:#2A2A33;justify-content:center;text-align:center;font-weight:400;letter-spacing:0px;padding-left:0px;line-height:11px;-webkit-text-stroke:0.3px #2A2A33;"><span style="transform:scaleX(0.92);transform-origin:50% 50%;">STEEL</span></div>
<div class="t" style="left:137.9px;top:681.8px;width:63.1px;height:16.4px;font-size:9px;color:#2A2A33;justify-content:center;text-align:center;font-weight:400;letter-spacing:0px;padding-left:0px;-webkit-text-stroke:0.15px #2A2A33;"><span style="">18, 32</span></div>
<div class="t" style="left:201px;top:681.8px;width:62.3px;height:16.4px;font-size:9px;color:#2A2A33;justify-content:center;text-align:center;font-weight:400;letter-spacing:0px;padding-left:0px;-webkit-text-stroke:0.15px #2A2A33;"><span style="">2400</span></div>
<div class="t" style="left:263.3px;top:681.8px;width:47.5px;height:16.4px;font-size:9px;color:#2A2A33;justify-content:center;text-align:center;font-weight:400;letter-spacing:0px;padding-left:0px;-webkit-text-stroke:0.15px #2A2A33;"><span style="">400</span></div>
<div class="t" style="left:310.8px;top:681.8px;width:51.0px;height:16.4px;font-size:9px;color:#2A2A33;justify-content:center;text-align:center;font-weight:400;letter-spacing:0px;padding-left:0px;-webkit-text-stroke:0.15px #2A2A33;"><span style="">45</span></div>
<div class="t" style="left:361.8px;top:681.8px;width:51.8px;height:16.4px;font-size:9px;color:#2A2A33;justify-content:center;text-align:center;font-weight:400;letter-spacing:0px;padding-left:0px;-webkit-text-stroke:0.15px #2A2A33;"><span style="">580</span></div>
<div class="t" style="left:413.6px;top:681.8px;width:66.9px;height:16.4px;font-size:9px;color:#2A2A33;justify-content:center;text-align:center;font-weight:400;letter-spacing:0px;padding-left:0px;-webkit-text-stroke:0.15px #2A2A33;"><span style="">4000</span></div>
<div class="t" style="left:480.5px;top:681.8px;width:52.5px;height:16.4px;font-size:9px;color:#2A2A33;justify-content:center;text-align:center;font-weight:400;letter-spacing:0px;padding-left:0px;-webkit-text-stroke:0.15px #2A2A33;"><span style="">560</span></div>
<div class="t" style="left:533px;top:681.8px;width:49.5px;height:16.4px;font-size:9px;color:#2A2A33;justify-content:center;text-align:center;font-weight:400;letter-spacing:0px;padding-left:0px;-webkit-text-stroke:0.15px #2A2A33;"><span style="">75</span></div>
<div class="t" style="left:582.5px;top:681.8px;width:54.0px;height:16.4px;font-size:9px;color:#2A2A33;justify-content:center;text-align:center;font-weight:400;letter-spacing:0px;padding-left:0px;-webkit-text-stroke:0.15px #2A2A33;"><span style="">700</span></div>
<div class="t" style="left:72.9px;top:698.1px;width:65.0px;height:27.8px;font-size:8.8px;color:#2A2A33;justify-content:center;text-align:center;font-weight:400;letter-spacing:0px;padding-left:0px;line-height:11px;-webkit-text-stroke:0.3px #2A2A33;"><span style="transform:scaleX(0.92);transform-origin:50% 50%;">STAINLESS<br>STEEL</span></div>
<div class="t" style="left:137.9px;top:699.1px;width:63.1px;height:27.8px;font-size:9px;color:#2A2A33;justify-content:center;text-align:center;font-weight:400;letter-spacing:0px;padding-left:0px;-webkit-text-stroke:0.15px #2A2A33;"><span style="">14.4, 25.6</span></div>
<div class="t" style="left:201px;top:699.1px;width:62.3px;height:27.8px;font-size:9px;color:#2A2A33;justify-content:center;text-align:center;font-weight:400;letter-spacing:0px;padding-left:0px;-webkit-text-stroke:0.15px #2A2A33;"><span style="">2400</span></div>
<div class="t" style="left:263.3px;top:699.1px;width:47.5px;height:27.8px;font-size:9px;color:#2A2A33;justify-content:center;text-align:center;font-weight:400;letter-spacing:0px;padding-left:0px;-webkit-text-stroke:0.15px #2A2A33;"><span style="">400</span></div>
<div class="t" style="left:310.8px;top:699.1px;width:51.0px;height:27.8px;font-size:9px;color:#2A2A33;justify-content:center;text-align:center;font-weight:400;letter-spacing:0px;padding-left:0px;-webkit-text-stroke:0.15px #2A2A33;"><span style="">45</span></div>
<div class="t" style="left:361.8px;top:699.1px;width:51.8px;height:27.8px;font-size:9px;color:#2A2A33;justify-content:center;text-align:center;font-weight:400;letter-spacing:0px;padding-left:0px;-webkit-text-stroke:0.15px #2A2A33;"><span style="">464</span></div>
<div class="t" style="left:413.6px;top:699.1px;width:66.9px;height:27.8px;font-size:9px;color:#2A2A33;justify-content:center;text-align:center;font-weight:400;letter-spacing:0px;padding-left:0px;-webkit-text-stroke:0.15px #2A2A33;"><span style="">4000</span></div>
<div class="t" style="left:480.5px;top:699.1px;width:52.5px;height:27.8px;font-size:9px;color:#2A2A33;justify-content:center;text-align:center;font-weight:400;letter-spacing:0px;padding-left:0px;-webkit-text-stroke:0.15px #2A2A33;"><span style="">560</span></div>
<div class="t" style="left:533px;top:699.1px;width:49.5px;height:27.8px;font-size:9px;color:#2A2A33;justify-content:center;text-align:center;font-weight:400;letter-spacing:0px;padding-left:0px;-webkit-text-stroke:0.15px #2A2A33;"><span style="">75</span></div>
<div class="t" style="left:582.5px;top:699.1px;width:54.0px;height:27.8px;font-size:9px;color:#2A2A33;justify-content:center;text-align:center;font-weight:400;letter-spacing:0px;padding-left:0px;-webkit-text-stroke:0.15px #2A2A33;"><span style="">560</span></div>
<div class="t" style="left:72.9px;top:725.7px;width:65.0px;height:15.0px;font-size:8.8px;color:#2A2A33;justify-content:center;text-align:center;font-weight:400;letter-spacing:0px;padding-left:0px;line-height:11px;-webkit-text-stroke:0.3px #2A2A33;"><span style="transform:scaleX(0.92);transform-origin:50% 50%;">ALUMINUM</span></div>
<div class="t" style="left:137.9px;top:726.2px;width:63.1px;height:15.0px;font-size:9px;color:#2A2A33;justify-content:center;text-align:center;font-weight:400;letter-spacing:0px;padding-left:0px;-webkit-text-stroke:0.15px #2A2A33;"><span style="">11, 19</span></div>
<div class="t" style="left:201px;top:726.2px;width:62.3px;height:15.0px;font-size:9px;color:#2A2A33;justify-content:center;text-align:center;font-weight:400;letter-spacing:0px;padding-left:0px;-webkit-text-stroke:0.15px #2A2A33;"><span style="">2400</span></div>
<div class="t" style="left:263.3px;top:726.2px;width:47.5px;height:15.0px;font-size:9px;color:#2A2A33;justify-content:center;text-align:center;font-weight:400;letter-spacing:0px;padding-left:0px;-webkit-text-stroke:0.15px #2A2A33;"><span style="">400</span></div>
<div class="t" style="left:310.8px;top:726.2px;width:51.0px;height:15.0px;font-size:9px;color:#2A2A33;justify-content:center;text-align:center;font-weight:400;letter-spacing:0px;padding-left:0px;-webkit-text-stroke:0.15px #2A2A33;"><span style="">45</span></div>
<div class="t" style="left:361.8px;top:726.2px;width:51.8px;height:15.0px;font-size:9px;color:#2A2A33;justify-content:center;text-align:center;font-weight:400;letter-spacing:0px;padding-left:0px;-webkit-text-stroke:0.15px #2A2A33;"><span style="">348</span></div>
<div class="t" style="left:413.6px;top:726.9px;width:66.9px;height:15.0px;font-size:8.8px;color:#2A2A33;justify-content:center;text-align:center;font-weight:400;letter-spacing:0px;padding-left:0px;-webkit-text-stroke:0.3px #2A2A33;"><span style="transform:scaleX(0.92);transform-origin:50% 50%;">NR</span></div>
<div class="t" style="left:480.5px;top:726.9px;width:52.5px;height:15.0px;font-size:8.8px;color:#2A2A33;justify-content:center;text-align:center;font-weight:400;letter-spacing:0px;padding-left:0px;-webkit-text-stroke:0.3px #2A2A33;"><span style="transform:scaleX(0.92);transform-origin:50% 50%;">NR</span></div>
<div class="t" style="left:533px;top:726.9px;width:49.5px;height:15.0px;font-size:8.8px;color:#2A2A33;justify-content:center;text-align:center;font-weight:400;letter-spacing:0px;padding-left:0px;-webkit-text-stroke:0.3px #2A2A33;"><span style="transform:scaleX(0.92);transform-origin:50% 50%;">NR</span></div>
<div class="t" style="left:582.5px;top:726.9px;width:54.0px;height:15.0px;font-size:8.8px;color:#2A2A33;justify-content:center;text-align:center;font-weight:400;letter-spacing:0px;padding-left:0px;-webkit-text-stroke:0.3px #2A2A33;"><span style="transform:scaleX(0.92);transform-origin:50% 50%;">NR</span></div>
<div class="f" style="left:23.9px;top:748.2px;font-size:9.0px;font-weight:400;color:#171A28;letter-spacing:0px;transform:scaleX(0.92);transform-origin:0 0;-webkit-text-stroke:0.15px #171A28">NR=NOT RECOMMENDED.</div>
<div class="f" style="left:23.6px;top:773.3px;font-size:10.9px;font-weight:700;color:#10121C;letter-spacing:0px;transform:scaleX(0.94);transform-origin:0 0;-webkit-text-stroke:0px #10121C">RECOMMENDED INSTALLATION PROCEDURE</div>
<div class="f" style="left:23.9px;top:787.5px;font-size:8.9px;font-weight:400;color:#171A28;letter-spacing:0px;transform:scaleX(0.94);transform-origin:0 0;-webkit-text-stroke:0.15px #171A28">1. INSERT STANDOFF THROUGH HOLE IN SHEET INTO ANVIL.</div>
<div class="f" style="left:24.2px;top:801.2px;font-size:8.9px;font-weight:400;color:#171A28;letter-spacing:0px;transform:scaleX(0.95);transform-origin:0 0;-webkit-text-stroke:0.15px #171A28">2. APPLY ONLY SUFFICIENT SQUEEZING FORCE BETWEEN PARALLEL SURFACES OF PUNCH</div>
<div class="f" style="left:36.5px;top:815.3px;font-size:8.9px;font-weight:400;color:#171A28;letter-spacing:0px;transform:scaleX(0.94);transform-origin:0 0;-webkit-text-stroke:0.15px #171A28">AND ANVIL TO EMBED HEX HEAD FLUSH IN SHEET.&nbsp;<span style="display:inline-block;width:4px"></span>AVOID EXCESSIVE PRESSURES.</div>
</body></html>
